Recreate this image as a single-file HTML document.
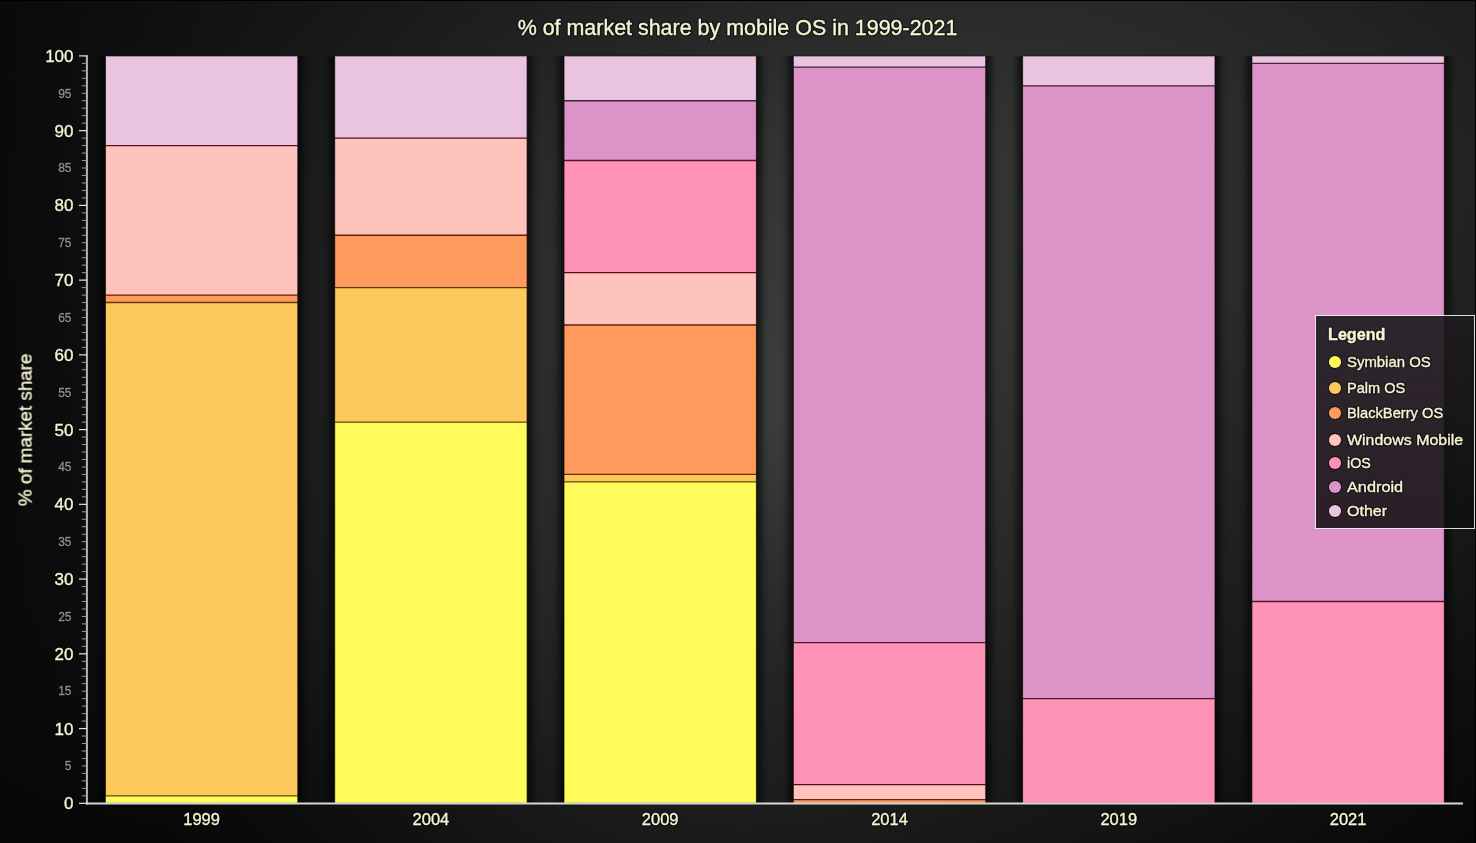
<!DOCTYPE html>
<html><head><meta charset="utf-8"><style>
html,body{margin:0;padding:0;}
body{width:1476px;height:843px;overflow:hidden;position:relative;background:#0a0a0a;font-family:"Liberation Sans",sans-serif;}
svg .t{opacity:0.999}
#bg div{position:absolute;left:0;width:1476px;height:8px}
.edge{position:absolute;background:#000}
</style></head><body>
<div id="bg"><div style="top:0px;background:linear-gradient(90deg,rgb(9.6,10.1,10.1) 0px,rgb(12.4,12.9,12.9) 82px,rgb(15.3,15.8,15.8) 164px,rgb(18.4,19.6,19.4) 246px,rgb(21.7,22.9,22.7) 328px,rgb(25.3,26.5,26.3) 410px,rgb(28.7,29.9,29.7) 492px,rgb(31.5,32.7,32.5) 574px,rgb(34.2,35.4,35.2) 656px,rgb(36.7,37.9,37.7) 738px,rgb(38.6,39.8,39.6) 820px,rgb(40.0,41.2,41.0) 902px,rgb(40.7,41.9,41.7) 984px,rgb(40.3,41.5,41.3) 1066px,rgb(39.0,40.2,40.0) 1148px,rgb(37.2,38.4,38.2) 1230px,rgb(34.7,35.9,35.7) 1312px,rgb(31.4,32.6,32.4) 1394px,rgb(28.0,29.2,29.0) 1476px)"></div><div style="top:8px;background:linear-gradient(90deg,rgb(9.7,10.2,10.2) 0px,rgb(12.4,12.9,12.9) 82px,rgb(15.4,15.9,15.9) 164px,rgb(18.6,19.8,19.6) 246px,rgb(22.0,23.2,23.0) 328px,rgb(25.7,26.9,26.7) 410px,rgb(29.2,30.4,30.2) 492px,rgb(32.1,33.3,33.1) 574px,rgb(34.8,36.0,35.8) 656px,rgb(37.3,38.5,38.3) 738px,rgb(39.2,40.4,40.2) 820px,rgb(40.6,41.8,41.6) 902px,rgb(41.3,42.5,42.3) 984px,rgb(40.8,42.0,41.8) 1066px,rgb(39.4,40.6,40.4) 1148px,rgb(37.6,38.8,38.6) 1230px,rgb(35.1,36.3,36.1) 1312px,rgb(31.8,33.0,32.8) 1394px,rgb(28.3,29.5,29.3) 1476px)"></div><div style="top:16px;background:linear-gradient(90deg,rgb(9.7,10.2,10.2) 0px,rgb(12.5,13.0,13.0) 82px,rgb(15.6,16.1,16.1) 164px,rgb(18.9,20.1,19.9) 246px,rgb(22.3,23.5,23.3) 328px,rgb(26.1,27.3,27.1) 410px,rgb(29.6,30.8,30.6) 492px,rgb(32.6,33.8,33.6) 574px,rgb(35.4,36.6,36.4) 656px,rgb(37.9,39.1,38.9) 738px,rgb(39.8,41.0,40.8) 820px,rgb(41.2,42.4,42.2) 902px,rgb(41.9,43.1,42.9) 984px,rgb(41.3,42.5,42.3) 1066px,rgb(39.8,41.0,40.8) 1148px,rgb(38.0,39.2,39.0) 1230px,rgb(35.4,36.6,36.4) 1312px,rgb(32.1,33.3,33.1) 1394px,rgb(28.7,29.9,29.7) 1476px)"></div><div style="top:24px;background:linear-gradient(90deg,rgb(9.7,10.2,10.2) 0px,rgb(12.6,13.1,13.1) 82px,rgb(15.7,16.2,16.2) 164px,rgb(19.1,20.3,20.1) 246px,rgb(22.6,23.8,23.6) 328px,rgb(26.4,27.6,27.4) 410px,rgb(30.1,31.3,31.1) 492px,rgb(33.2,34.4,34.2) 574px,rgb(36.0,37.2,37.0) 656px,rgb(38.5,39.7,39.5) 738px,rgb(40.5,41.7,41.5) 820px,rgb(41.8,43.0,42.8) 902px,rgb(42.5,43.7,43.5) 984px,rgb(41.8,43.0,42.8) 1066px,rgb(40.3,41.5,41.3) 1148px,rgb(38.3,39.5,39.3) 1230px,rgb(35.8,37.0,36.8) 1312px,rgb(32.5,33.7,33.5) 1394px,rgb(29.0,30.2,30.0) 1476px)"></div><div style="top:32px;background:linear-gradient(90deg,rgb(9.7,10.2,10.2) 0px,rgb(12.6,13.1,13.1) 82px,rgb(15.8,16.3,16.3) 164px,rgb(19.3,20.5,20.3) 246px,rgb(22.9,24.1,23.9) 328px,rgb(26.8,28.0,27.8) 410px,rgb(30.6,31.8,31.6) 492px,rgb(33.8,35.0,34.8) 574px,rgb(36.6,37.8,37.6) 656px,rgb(39.2,40.4,40.2) 738px,rgb(41.1,42.3,42.1) 820px,rgb(42.5,43.7,43.5) 902px,rgb(43.0,44.2,44.0) 984px,rgb(42.3,43.5,43.3) 1066px,rgb(40.7,41.9,41.7) 1148px,rgb(38.7,39.9,39.7) 1230px,rgb(36.1,37.3,37.1) 1312px,rgb(32.9,34.1,33.9) 1394px,rgb(29.4,30.6,30.4) 1476px)"></div><div style="top:40px;background:linear-gradient(90deg,rgb(9.7,10.2,10.2) 0px,rgb(12.7,13.2,13.2) 82px,rgb(16.0,16.5,16.5) 164px,rgb(19.5,20.7,20.5) 246px,rgb(23.2,24.4,24.2) 328px,rgb(27.2,28.4,28.2) 410px,rgb(31.1,32.3,32.1) 492px,rgb(34.3,35.5,35.3) 574px,rgb(37.3,38.5,38.3) 656px,rgb(39.8,41.0,40.8) 738px,rgb(41.8,43.0,42.8) 820px,rgb(43.1,44.3,44.1) 902px,rgb(43.6,44.8,44.6) 984px,rgb(42.8,44.0,43.8) 1066px,rgb(41.1,42.3,42.1) 1148px,rgb(39.1,40.3,40.1) 1230px,rgb(36.5,37.7,37.5) 1312px,rgb(33.2,34.4,34.2) 1394px,rgb(29.8,31.0,30.8) 1476px)"></div><div style="top:48px;background:linear-gradient(90deg,rgb(9.7,10.2,10.2) 0px,rgb(12.7,13.2,13.2) 82px,rgb(16.1,16.6,16.6) 164px,rgb(19.7,20.9,20.7) 246px,rgb(23.5,24.7,24.5) 328px,rgb(27.5,28.7,28.5) 410px,rgb(31.5,32.7,32.5) 492px,rgb(34.9,36.1,35.9) 574px,rgb(37.9,39.1,38.9) 656px,rgb(40.5,41.7,41.5) 738px,rgb(42.4,43.6,43.4) 820px,rgb(43.7,44.9,44.7) 902px,rgb(44.2,45.4,45.2) 984px,rgb(43.3,44.5,44.3) 1066px,rgb(41.5,42.7,42.5) 1148px,rgb(39.4,40.6,40.4) 1230px,rgb(36.8,38.0,37.8) 1312px,rgb(33.6,34.8,34.6) 1394px,rgb(30.2,31.4,31.2) 1476px)"></div><div style="top:56px;background:linear-gradient(90deg,rgb(9.7,10.2,10.2) 0px,rgb(12.8,13.3,13.3) 82px,rgb(16.2,16.7,16.7) 164px,rgb(19.9,21.1,20.9) 246px,rgb(23.7,24.9,24.7) 328px,rgb(27.9,29.1,28.9) 410px,rgb(32.0,33.2,33.0) 492px,rgb(35.5,36.7,36.5) 574px,rgb(38.5,39.7,39.5) 656px,rgb(41.2,42.4,42.2) 738px,rgb(43.1,44.3,44.1) 820px,rgb(44.4,45.6,45.4) 902px,rgb(44.8,46.0,45.8) 984px,rgb(43.8,45.0,44.8) 1066px,rgb(41.9,43.1,42.9) 1148px,rgb(39.8,41.0,40.8) 1230px,rgb(37.1,38.3,38.1) 1312px,rgb(34.0,35.2,35.0) 1394px,rgb(30.6,31.8,31.6) 1476px)"></div><div style="top:64px;background:linear-gradient(90deg,rgb(9.7,10.2,10.2) 0px,rgb(12.8,13.3,13.3) 82px,rgb(16.3,16.8,16.8) 164px,rgb(20.1,21.3,21.1) 246px,rgb(24.0,25.2,25.0) 328px,rgb(28.3,29.5,29.3) 410px,rgb(32.5,33.7,33.5) 492px,rgb(36.1,37.3,37.1) 574px,rgb(39.2,40.4,40.2) 656px,rgb(41.9,43.1,42.9) 738px,rgb(43.8,45.0,44.8) 820px,rgb(45.0,46.2,46.0) 902px,rgb(45.4,46.6,46.4) 984px,rgb(44.3,45.5,45.3) 1066px,rgb(42.3,43.5,43.3) 1148px,rgb(40.1,41.3,41.1) 1230px,rgb(37.4,38.6,38.4) 1312px,rgb(34.3,35.5,35.3) 1394px,rgb(31.0,32.2,32.0) 1476px)"></div><div style="top:72px;background:linear-gradient(90deg,rgb(9.7,10.2,10.2) 0px,rgb(12.9,13.4,13.4) 82px,rgb(16.5,17.0,17.0) 164px,rgb(20.3,21.5,21.3) 246px,rgb(24.3,25.5,25.3) 328px,rgb(28.6,29.8,29.6) 410px,rgb(32.9,34.1,33.9) 492px,rgb(36.6,37.8,37.6) 574px,rgb(39.8,41.0,40.8) 656px,rgb(42.5,43.7,43.5) 738px,rgb(44.5,45.7,45.5) 820px,rgb(45.6,46.8,46.6) 902px,rgb(45.9,47.1,46.9) 984px,rgb(44.7,45.9,45.7) 1066px,rgb(42.7,43.9,43.7) 1148px,rgb(40.4,41.6,41.4) 1230px,rgb(37.7,38.9,38.7) 1312px,rgb(34.6,35.8,35.6) 1394px,rgb(31.3,32.5,32.3) 1476px)"></div><div style="top:80px;background:linear-gradient(90deg,rgb(9.6,10.1,10.1) 0px,rgb(12.9,13.4,13.4) 82px,rgb(16.6,17.1,17.1) 164px,rgb(20.5,21.7,21.5) 246px,rgb(24.6,25.8,25.6) 328px,rgb(29.0,30.2,30.0) 410px,rgb(33.4,34.6,34.4) 492px,rgb(37.2,38.4,38.2) 574px,rgb(40.4,41.6,41.4) 656px,rgb(43.2,44.4,44.2) 738px,rgb(45.2,46.4,46.2) 820px,rgb(46.3,47.5,47.3) 902px,rgb(46.5,47.7,47.5) 984px,rgb(45.2,46.4,46.2) 1066px,rgb(43.1,44.3,44.1) 1148px,rgb(40.7,41.9,41.7) 1230px,rgb(38.0,39.2,39.0) 1312px,rgb(34.9,36.1,35.9) 1394px,rgb(31.7,32.9,32.7) 1476px)"></div><div style="top:88px;background:linear-gradient(90deg,rgb(9.6,10.1,10.1) 0px,rgb(13.0,13.5,13.5) 82px,rgb(16.7,17.2,17.2) 164px,rgb(20.7,21.9,21.7) 246px,rgb(24.9,26.1,25.9) 328px,rgb(29.4,30.6,30.4) 410px,rgb(33.9,35.1,34.9) 492px,rgb(37.8,39.0,38.8) 574px,rgb(41.1,42.3,42.1) 656px,rgb(43.9,45.1,44.9) 738px,rgb(45.9,47.1,46.9) 820px,rgb(46.9,48.1,47.9) 902px,rgb(47.0,48.2,48.0) 984px,rgb(45.6,46.8,46.6) 1066px,rgb(43.4,44.6,44.4) 1148px,rgb(41.0,42.2,42.0) 1230px,rgb(38.3,39.5,39.3) 1312px,rgb(35.2,36.4,36.2) 1394px,rgb(32.0,33.2,33.0) 1476px)"></div><div style="top:96px;background:linear-gradient(90deg,rgb(9.6,10.1,10.1) 0px,rgb(13.0,13.5,13.5) 82px,rgb(16.8,17.3,17.3) 164px,rgb(20.9,22.1,21.9) 246px,rgb(25.2,26.4,26.2) 328px,rgb(29.7,30.9,30.7) 410px,rgb(34.3,35.5,35.3) 492px,rgb(38.3,39.5,39.3) 574px,rgb(41.7,42.9,42.7) 656px,rgb(44.6,45.8,45.6) 738px,rgb(46.5,47.7,47.5) 820px,rgb(47.4,48.6,48.4) 902px,rgb(47.5,48.7,48.5) 984px,rgb(46.1,47.3,47.1) 1066px,rgb(43.8,45.0,44.8) 1148px,rgb(41.3,42.5,42.3) 1230px,rgb(38.5,39.7,39.5) 1312px,rgb(35.5,36.7,36.5) 1394px,rgb(32.3,33.5,33.3) 1476px)"></div><div style="top:104px;background:linear-gradient(90deg,rgb(9.6,10.1,10.1) 0px,rgb(13.1,13.6,13.6) 82px,rgb(16.9,17.4,17.4) 164px,rgb(21.0,22.2,22.0) 246px,rgb(25.4,26.6,26.4) 328px,rgb(30.0,31.2,31.0) 410px,rgb(34.7,35.9,35.7) 492px,rgb(38.9,40.1,39.9) 574px,rgb(42.3,43.5,43.3) 656px,rgb(45.3,46.5,46.3) 738px,rgb(47.2,48.4,48.2) 820px,rgb(48.0,49.2,49.0) 902px,rgb(48.0,49.2,49.0) 984px,rgb(46.5,47.7,47.5) 1066px,rgb(44.1,45.3,45.1) 1148px,rgb(41.6,42.8,42.6) 1230px,rgb(38.7,39.9,39.7) 1312px,rgb(35.7,36.9,36.7) 1394px,rgb(32.5,33.7,33.5) 1476px)"></div><div style="top:112px;background:linear-gradient(90deg,rgb(9.6,10.1,10.1) 0px,rgb(13.1,13.6,13.6) 82px,rgb(17.0,17.5,17.5) 164px,rgb(21.2,22.4,22.2) 246px,rgb(25.7,26.9,26.7) 328px,rgb(30.4,31.6,31.4) 410px,rgb(35.2,36.4,36.2) 492px,rgb(39.4,40.6,40.4) 574px,rgb(42.9,44.1,43.9) 656px,rgb(45.9,47.1,46.9) 738px,rgb(47.8,49.0,48.8) 820px,rgb(48.6,49.8,49.6) 902px,rgb(48.5,49.7,49.5) 984px,rgb(46.9,48.1,47.9) 1066px,rgb(44.4,45.6,45.4) 1148px,rgb(41.8,43.0,42.8) 1230px,rgb(39.0,40.2,40.0) 1312px,rgb(35.9,37.1,36.9) 1394px,rgb(32.7,33.9,33.7) 1476px)"></div><div style="top:120px;background:linear-gradient(90deg,rgb(9.6,10.1,10.1) 0px,rgb(13.1,13.6,13.6) 82px,rgb(17.1,17.6,17.6) 164px,rgb(21.4,22.6,22.4) 246px,rgb(25.9,27.1,26.9) 328px,rgb(30.7,31.9,31.7) 410px,rgb(35.6,36.8,36.6) 492px,rgb(39.9,41.1,40.9) 574px,rgb(43.4,44.6,44.4) 656px,rgb(46.6,47.8,47.6) 738px,rgb(48.5,49.7,49.5) 820px,rgb(49.1,50.3,50.1) 902px,rgb(49.0,50.2,50.0) 984px,rgb(47.2,48.4,48.2) 1066px,rgb(44.7,45.9,45.7) 1148px,rgb(42.0,43.2,43.0) 1230px,rgb(39.1,40.3,40.1) 1312px,rgb(36.1,37.3,37.1) 1394px,rgb(32.8,34.0,33.8) 1476px)"></div><div style="top:128px;background:linear-gradient(90deg,rgb(9.6,10.1,10.1) 0px,rgb(13.2,13.7,13.7) 82px,rgb(17.2,17.7,17.7) 164px,rgb(21.6,22.8,22.6) 246px,rgb(26.2,27.4,27.2) 328px,rgb(31.0,32.2,32.0) 410px,rgb(36.0,37.2,37.0) 492px,rgb(40.4,41.6,41.4) 574px,rgb(44.0,45.2,45.0) 656px,rgb(47.2,48.4,48.2) 738px,rgb(49.1,50.3,50.1) 820px,rgb(49.6,50.8,50.6) 902px,rgb(49.4,50.6,50.4) 984px,rgb(47.6,48.8,48.6) 1066px,rgb(44.9,46.1,45.9) 1148px,rgb(42.2,43.4,43.2) 1230px,rgb(39.3,40.5,40.3) 1312px,rgb(36.3,37.5,37.3) 1394px,rgb(33.0,34.2,34.0) 1476px)"></div><div style="top:136px;background:linear-gradient(90deg,rgb(9.6,10.1,10.1) 0px,rgb(13.2,13.7,13.7) 82px,rgb(17.3,17.8,17.8) 164px,rgb(21.7,22.9,22.7) 246px,rgb(26.4,27.6,27.4) 328px,rgb(31.3,32.5,32.3) 410px,rgb(36.3,37.5,37.3) 492px,rgb(40.9,42.1,41.9) 574px,rgb(44.5,45.7,45.5) 656px,rgb(47.8,49.0,48.8) 738px,rgb(49.7,50.9,50.7) 820px,rgb(50.1,51.3,51.1) 902px,rgb(49.8,51.0,50.8) 984px,rgb(47.9,49.1,48.9) 1066px,rgb(45.2,46.4,46.2) 1148px,rgb(42.4,43.6,43.4) 1230px,rgb(39.5,40.7,40.5) 1312px,rgb(36.4,37.6,37.4) 1394px,rgb(33.1,34.3,34.1) 1476px)"></div><div style="top:144px;background:linear-gradient(90deg,rgb(9.6,10.1,10.1) 0px,rgb(13.3,13.8,13.8) 82px,rgb(17.4,17.9,17.9) 164px,rgb(21.9,23.1,22.9) 246px,rgb(26.6,27.8,27.6) 328px,rgb(31.6,32.8,32.6) 410px,rgb(36.7,37.9,37.7) 492px,rgb(41.3,42.5,42.3) 574px,rgb(45.0,46.2,46.0) 656px,rgb(48.4,49.6,49.4) 738px,rgb(50.2,51.4,51.2) 820px,rgb(50.6,51.8,51.6) 902px,rgb(50.2,51.4,51.2) 984px,rgb(48.1,49.3,49.1) 1066px,rgb(45.4,46.6,46.4) 1148px,rgb(42.6,43.8,43.6) 1230px,rgb(39.6,40.8,40.6) 1312px,rgb(36.5,37.7,37.5) 1394px,rgb(33.1,34.3,34.1) 1476px)"></div><div style="top:152px;background:linear-gradient(90deg,rgb(9.7,10.2,10.2) 0px,rgb(13.3,13.8,13.8) 82px,rgb(17.5,18.0,18.0) 164px,rgb(22.0,23.2,23.0) 246px,rgb(26.9,28.1,27.9) 328px,rgb(31.8,33.0,32.8) 410px,rgb(37.0,38.2,38.0) 492px,rgb(41.7,42.9,42.7) 574px,rgb(45.5,46.7,46.5) 656px,rgb(48.9,50.1,49.9) 738px,rgb(50.7,51.9,51.7) 820px,rgb(51.0,52.2,52.0) 902px,rgb(50.5,51.7,51.5) 984px,rgb(48.4,49.6,49.4) 1066px,rgb(45.6,46.8,46.6) 1148px,rgb(42.8,44.0,43.8) 1230px,rgb(39.7,40.9,40.7) 1312px,rgb(36.6,37.8,37.6) 1394px,rgb(33.2,34.4,34.2) 1476px)"></div><div style="top:160px;background:linear-gradient(90deg,rgb(9.7,10.2,10.2) 0px,rgb(13.3,13.8,13.8) 82px,rgb(17.6,18.1,18.1) 164px,rgb(22.2,23.4,23.2) 246px,rgb(27.1,28.3,28.1) 328px,rgb(32.1,33.3,33.1) 410px,rgb(37.3,38.5,38.3) 492px,rgb(42.1,43.3,43.1) 574px,rgb(46.0,47.2,47.0) 656px,rgb(49.4,50.6,50.4) 738px,rgb(51.2,52.4,52.2) 820px,rgb(51.4,52.6,52.4) 902px,rgb(50.8,52.0,51.8) 984px,rgb(48.6,49.8,49.6) 1066px,rgb(45.7,46.9,46.7) 1148px,rgb(42.9,44.1,43.9) 1230px,rgb(39.8,41.0,40.8) 1312px,rgb(36.7,37.9,37.7) 1394px,rgb(33.2,34.4,34.2) 1476px)"></div><div style="top:168px;background:linear-gradient(90deg,rgb(9.7,10.2,10.2) 0px,rgb(13.4,13.9,13.9) 82px,rgb(17.6,18.1,18.1) 164px,rgb(22.3,23.5,23.3) 246px,rgb(27.3,28.5,28.3) 328px,rgb(32.3,33.5,33.3) 410px,rgb(37.6,38.8,38.6) 492px,rgb(42.5,43.7,43.5) 574px,rgb(46.4,47.6,47.4) 656px,rgb(49.9,51.1,50.9) 738px,rgb(51.7,52.9,52.7) 820px,rgb(51.8,53.0,52.8) 902px,rgb(51.1,52.3,52.1) 984px,rgb(48.8,50.0,49.8) 1066px,rgb(45.9,47.1,46.9) 1148px,rgb(43.0,44.2,44.0) 1230px,rgb(39.9,41.1,40.9) 1312px,rgb(36.7,37.9,37.7) 1394px,rgb(33.2,34.4,34.2) 1476px)"></div><div style="top:176px;background:linear-gradient(90deg,rgb(9.7,10.2,10.2) 0px,rgb(13.4,13.9,13.9) 82px,rgb(17.7,18.2,18.2) 164px,rgb(22.5,23.7,23.5) 246px,rgb(27.4,28.6,28.4) 328px,rgb(32.5,33.7,33.5) 410px,rgb(37.8,39.0,38.8) 492px,rgb(42.8,44.0,43.8) 574px,rgb(46.9,48.1,47.9) 656px,rgb(50.3,51.5,51.3) 738px,rgb(52.1,53.3,53.1) 820px,rgb(52.2,53.4,53.2) 902px,rgb(51.3,52.5,52.3) 984px,rgb(48.9,50.1,49.9) 1066px,rgb(46.0,47.2,47.0) 1148px,rgb(43.1,44.3,44.1) 1230px,rgb(39.9,41.1,40.9) 1312px,rgb(36.7,37.9,37.7) 1394px,rgb(33.2,34.4,34.2) 1476px)"></div><div style="top:184px;background:linear-gradient(90deg,rgb(9.7,10.2,10.2) 0px,rgb(13.4,13.9,13.9) 82px,rgb(17.8,18.3,18.3) 164px,rgb(22.6,23.8,23.6) 246px,rgb(27.6,28.8,28.6) 328px,rgb(32.7,33.9,33.7) 410px,rgb(38.1,39.3,39.1) 492px,rgb(43.1,44.3,44.1) 574px,rgb(47.3,48.5,48.3) 656px,rgb(50.7,51.9,51.7) 738px,rgb(52.5,53.7,53.5) 820px,rgb(52.5,53.7,53.5) 902px,rgb(51.5,52.7,52.5) 984px,rgb(49.0,50.2,50.0) 1066px,rgb(46.0,47.2,47.0) 1148px,rgb(43.1,44.3,44.1) 1230px,rgb(40.0,41.2,41.0) 1312px,rgb(36.7,37.9,37.7) 1394px,rgb(33.2,34.4,34.2) 1476px)"></div><div style="top:192px;background:linear-gradient(90deg,rgb(9.7,10.2,10.2) 0px,rgb(13.4,13.9,13.9) 82px,rgb(17.9,18.4,18.4) 164px,rgb(22.7,23.9,23.7) 246px,rgb(27.8,29.0,28.8) 328px,rgb(32.9,34.1,33.9) 410px,rgb(38.3,39.5,39.3) 492px,rgb(43.4,44.6,44.4) 574px,rgb(47.6,48.8,48.6) 656px,rgb(51.1,52.3,52.1) 738px,rgb(52.8,54.0,53.8) 820px,rgb(52.8,54.0,53.8) 902px,rgb(51.7,52.9,52.7) 984px,rgb(49.1,50.3,50.1) 1066px,rgb(46.1,47.3,47.1) 1148px,rgb(43.2,44.4,44.2) 1230px,rgb(40.0,41.2,41.0) 1312px,rgb(36.7,37.9,37.7) 1394px,rgb(33.2,34.4,34.2) 1476px)"></div><div style="top:200px;background:linear-gradient(90deg,rgb(9.7,10.2,10.2) 0px,rgb(13.5,14.0,14.0) 82px,rgb(17.9,18.4,18.4) 164px,rgb(22.8,24.0,23.8) 246px,rgb(27.9,29.1,28.9) 328px,rgb(33.1,34.3,34.1) 410px,rgb(38.5,39.7,39.5) 492px,rgb(43.6,44.8,44.6) 574px,rgb(48.0,49.2,49.0) 656px,rgb(51.4,52.6,52.4) 738px,rgb(53.1,54.3,54.1) 820px,rgb(53.1,54.3,54.1) 902px,rgb(51.8,53.0,52.8) 984px,rgb(49.2,50.4,50.2) 1066px,rgb(46.1,47.3,47.1) 1148px,rgb(43.2,44.4,44.2) 1230px,rgb(40.0,41.2,41.0) 1312px,rgb(36.7,37.9,37.7) 1394px,rgb(33.1,34.3,34.1) 1476px)"></div><div style="top:208px;background:linear-gradient(90deg,rgb(9.7,10.2,10.2) 0px,rgb(13.5,14.0,14.0) 82px,rgb(18.0,18.5,18.5) 164px,rgb(22.9,24.1,23.9) 246px,rgb(28.1,29.3,29.1) 328px,rgb(33.3,34.5,34.3) 410px,rgb(38.7,39.9,39.7) 492px,rgb(43.9,45.1,44.9) 574px,rgb(48.3,49.5,49.3) 656px,rgb(51.7,52.9,52.7) 738px,rgb(53.4,54.6,54.4) 820px,rgb(53.3,54.5,54.3) 902px,rgb(51.9,53.1,52.9) 984px,rgb(49.2,50.4,50.2) 1066px,rgb(46.1,47.3,47.1) 1148px,rgb(43.2,44.4,44.2) 1230px,rgb(39.9,41.1,40.9) 1312px,rgb(36.6,37.8,37.6) 1394px,rgb(33.0,34.2,34.0) 1476px)"></div><div style="top:216px;background:linear-gradient(90deg,rgb(9.7,10.2,10.2) 0px,rgb(13.5,14.0,14.0) 82px,rgb(18.0,19.2,19.0) 164px,rgb(23.0,24.2,24.0) 246px,rgb(28.2,29.4,29.2) 328px,rgb(33.4,34.6,34.4) 410px,rgb(38.8,40.0,39.8) 492px,rgb(44.1,45.3,45.1) 574px,rgb(48.7,49.9,49.7) 656px,rgb(52.1,53.3,53.1) 738px,rgb(53.7,54.9,54.7) 820px,rgb(53.6,54.8,54.6) 902px,rgb(52.0,53.2,53.0) 984px,rgb(49.2,50.4,50.2) 1066px,rgb(46.1,47.3,47.1) 1148px,rgb(43.1,44.3,44.1) 1230px,rgb(39.8,41.0,40.8) 1312px,rgb(36.5,37.7,37.5) 1394px,rgb(33.0,34.2,34.0) 1476px)"></div><div style="top:224px;background:linear-gradient(90deg,rgb(9.6,10.1,10.1) 0px,rgb(13.5,14.0,14.0) 82px,rgb(18.1,19.3,19.1) 164px,rgb(23.1,24.3,24.1) 246px,rgb(28.3,29.5,29.3) 328px,rgb(33.6,34.8,34.6) 410px,rgb(39.0,40.2,40.0) 492px,rgb(44.3,45.5,45.3) 574px,rgb(49.0,50.2,50.0) 656px,rgb(52.4,53.6,53.4) 738px,rgb(54.0,55.2,55.0) 820px,rgb(53.8,55.0,54.8) 902px,rgb(52.0,53.2,53.0) 984px,rgb(49.2,50.4,50.2) 1066px,rgb(46.0,47.2,47.0) 1148px,rgb(43.0,44.2,44.0) 1230px,rgb(39.8,41.0,40.8) 1312px,rgb(36.4,37.6,37.4) 1394px,rgb(32.8,34.0,33.8) 1476px)"></div><div style="top:232px;background:linear-gradient(90deg,rgb(9.6,10.1,10.1) 0px,rgb(13.5,14.0,14.0) 82px,rgb(18.1,19.3,19.1) 164px,rgb(23.2,24.4,24.2) 246px,rgb(28.4,29.6,29.4) 328px,rgb(33.7,34.9,34.7) 410px,rgb(39.1,40.3,40.1) 492px,rgb(44.5,45.7,45.5) 574px,rgb(49.3,50.5,50.3) 656px,rgb(52.6,53.8,53.6) 738px,rgb(54.3,55.5,55.3) 820px,rgb(54.0,55.2,55.0) 902px,rgb(52.1,53.3,53.1) 984px,rgb(49.1,50.3,50.1) 1066px,rgb(46.0,47.2,47.0) 1148px,rgb(42.9,44.1,43.9) 1230px,rgb(39.6,40.8,40.6) 1312px,rgb(36.3,37.5,37.3) 1394px,rgb(32.7,33.9,33.7) 1476px)"></div><div style="top:240px;background:linear-gradient(90deg,rgb(9.6,10.1,10.1) 0px,rgb(13.5,14.0,14.0) 82px,rgb(18.2,19.4,19.2) 164px,rgb(23.3,24.5,24.3) 246px,rgb(28.5,29.7,29.5) 328px,rgb(33.8,35.0,34.8) 410px,rgb(39.2,40.4,40.2) 492px,rgb(44.6,45.8,45.6) 574px,rgb(49.5,50.7,50.5) 656px,rgb(52.9,54.1,53.9) 738px,rgb(54.5,55.7,55.5) 820px,rgb(54.2,55.4,55.2) 902px,rgb(52.1,53.3,53.1) 984px,rgb(49.0,50.2,50.0) 1066px,rgb(45.8,47.0,46.8) 1148px,rgb(42.8,44.0,43.8) 1230px,rgb(39.5,40.7,40.5) 1312px,rgb(36.2,37.4,37.2) 1394px,rgb(32.6,33.8,33.6) 1476px)"></div><div style="top:248px;background:linear-gradient(90deg,rgb(9.6,10.1,10.1) 0px,rgb(13.5,14.0,14.0) 82px,rgb(18.2,19.4,19.2) 164px,rgb(23.3,24.5,24.3) 246px,rgb(28.6,29.8,29.6) 328px,rgb(33.9,35.1,34.9) 410px,rgb(39.3,40.5,40.3) 492px,rgb(44.8,46.0,45.8) 574px,rgb(49.8,51.0,50.8) 656px,rgb(53.2,54.4,54.2) 738px,rgb(54.8,56.0,55.8) 820px,rgb(54.3,55.5,55.3) 902px,rgb(52.0,53.2,53.0) 984px,rgb(48.9,50.1,49.9) 1066px,rgb(45.7,46.9,46.7) 1148px,rgb(42.6,43.8,43.6) 1230px,rgb(39.4,40.6,40.4) 1312px,rgb(36.0,37.2,37.0) 1394px,rgb(32.4,33.6,33.4) 1476px)"></div><div style="top:256px;background:linear-gradient(90deg,rgb(9.6,10.1,10.1) 0px,rgb(13.5,14.0,14.0) 82px,rgb(18.2,19.4,19.2) 164px,rgb(23.4,24.6,24.4) 246px,rgb(28.7,29.9,29.7) 328px,rgb(33.9,35.1,34.9) 410px,rgb(39.3,40.5,40.3) 492px,rgb(44.9,46.1,45.9) 574px,rgb(50.1,51.3,51.1) 656px,rgb(53.6,54.8,54.6) 738px,rgb(55.1,56.3,56.1) 820px,rgb(54.5,55.7,55.5) 902px,rgb(52.0,53.2,53.0) 984px,rgb(48.8,50.0,49.8) 1066px,rgb(45.6,46.8,46.6) 1148px,rgb(42.5,43.7,43.5) 1230px,rgb(39.2,40.4,40.2) 1312px,rgb(35.8,37.0,36.8) 1394px,rgb(32.3,33.5,33.3) 1476px)"></div><div style="top:264px;background:linear-gradient(90deg,rgb(9.6,10.1,10.1) 0px,rgb(13.5,14.0,14.0) 82px,rgb(18.3,19.5,19.3) 164px,rgb(23.5,24.7,24.5) 246px,rgb(28.8,30.0,29.8) 328px,rgb(34.0,35.2,35.0) 410px,rgb(39.4,40.6,40.4) 492px,rgb(45.0,46.2,46.0) 574px,rgb(50.3,51.5,51.3) 656px,rgb(53.9,55.1,54.9) 738px,rgb(55.3,56.5,56.3) 820px,rgb(54.6,55.8,55.6) 902px,rgb(52.0,53.2,53.0) 984px,rgb(48.7,49.9,49.7) 1066px,rgb(45.4,46.6,46.4) 1148px,rgb(42.3,43.5,43.3) 1230px,rgb(39.0,40.2,40.0) 1312px,rgb(35.7,36.9,36.7) 1394px,rgb(32.1,33.3,33.1) 1476px)"></div><div style="top:272px;background:linear-gradient(90deg,rgb(9.6,10.1,10.1) 0px,rgb(13.5,14.0,14.0) 82px,rgb(18.3,19.5,19.3) 164px,rgb(23.5,24.7,24.5) 246px,rgb(28.8,30.0,29.8) 328px,rgb(34.1,35.3,35.1) 410px,rgb(39.4,40.6,40.4) 492px,rgb(45.1,46.3,46.1) 574px,rgb(50.5,51.7,51.5) 656px,rgb(54.2,55.4,55.2) 738px,rgb(55.6,56.8,56.6) 820px,rgb(54.7,55.9,55.7) 902px,rgb(51.9,53.1,52.9) 984px,rgb(48.5,49.7,49.5) 1066px,rgb(45.2,46.4,46.2) 1148px,rgb(42.0,43.2,43.0) 1230px,rgb(38.8,40.0,39.8) 1312px,rgb(35.5,36.7,36.5) 1394px,rgb(31.9,33.1,32.9) 1476px)"></div><div style="top:280px;background:linear-gradient(90deg,rgb(9.5,10.0,10.0) 0px,rgb(13.5,14.0,14.0) 82px,rgb(18.3,19.5,19.3) 164px,rgb(23.6,24.8,24.6) 246px,rgb(28.9,30.1,29.9) 328px,rgb(34.1,35.3,35.1) 410px,rgb(39.4,40.6,40.4) 492px,rgb(45.2,46.4,46.2) 574px,rgb(50.8,52.0,51.8) 656px,rgb(54.5,55.7,55.5) 738px,rgb(55.9,57.1,56.9) 820px,rgb(54.8,56.0,55.8) 902px,rgb(51.8,53.0,52.8) 984px,rgb(48.3,49.5,49.3) 1066px,rgb(45.0,46.2,46.0) 1148px,rgb(41.8,43.0,42.8) 1230px,rgb(38.6,39.8,39.6) 1312px,rgb(35.2,36.4,36.2) 1394px,rgb(31.7,32.9,32.7) 1476px)"></div><div style="top:288px;background:linear-gradient(90deg,rgb(9.5,10.0,10.0) 0px,rgb(13.5,14.0,14.0) 82px,rgb(18.3,19.5,19.3) 164px,rgb(23.6,24.8,24.6) 246px,rgb(28.9,30.1,29.9) 328px,rgb(34.1,35.3,35.1) 410px,rgb(39.4,40.6,40.4) 492px,rgb(45.2,46.4,46.2) 574px,rgb(51.0,52.2,52.0) 656px,rgb(54.9,56.1,55.9) 738px,rgb(56.2,57.4,57.2) 820px,rgb(54.9,56.1,55.9) 902px,rgb(51.7,52.9,52.7) 984px,rgb(48.1,49.3,49.1) 1066px,rgb(44.7,45.9,45.7) 1148px,rgb(41.5,42.7,42.5) 1230px,rgb(38.3,39.5,39.3) 1312px,rgb(35.0,36.2,36.0) 1394px,rgb(31.5,32.7,32.5) 1476px)"></div><div style="top:296px;background:linear-gradient(90deg,rgb(9.5,10.0,10.0) 0px,rgb(13.5,14.0,14.0) 82px,rgb(18.3,19.5,19.3) 164px,rgb(23.6,24.8,24.6) 246px,rgb(29.0,30.2,30.0) 328px,rgb(34.1,35.3,35.1) 410px,rgb(39.4,40.6,40.4) 492px,rgb(45.2,46.4,46.2) 574px,rgb(51.2,52.4,52.2) 656px,rgb(55.2,56.4,56.2) 738px,rgb(56.5,57.7,57.5) 820px,rgb(55.0,56.2,56.0) 902px,rgb(51.5,52.7,52.5) 984px,rgb(47.9,49.1,48.9) 1066px,rgb(44.5,45.7,45.5) 1148px,rgb(41.3,42.5,42.3) 1230px,rgb(38.1,39.3,39.1) 1312px,rgb(34.8,36.0,35.8) 1394px,rgb(31.3,32.5,32.3) 1476px)"></div><div style="top:304px;background:linear-gradient(90deg,rgb(9.5,10.0,10.0) 0px,rgb(13.5,14.0,14.0) 82px,rgb(18.3,19.5,19.3) 164px,rgb(23.7,24.9,24.7) 246px,rgb(29.0,30.2,30.0) 328px,rgb(34.1,35.3,35.1) 410px,rgb(39.4,40.6,40.4) 492px,rgb(45.3,46.5,46.3) 574px,rgb(51.3,52.5,52.3) 656px,rgb(55.6,56.8,56.6) 738px,rgb(56.8,58.0,57.8) 820px,rgb(55.0,56.2,56.0) 902px,rgb(51.4,52.6,52.4) 984px,rgb(47.6,48.8,48.6) 1066px,rgb(44.2,45.4,45.2) 1148px,rgb(41.0,42.2,42.0) 1230px,rgb(37.8,39.0,38.8) 1312px,rgb(34.5,35.7,35.5) 1394px,rgb(31.1,32.3,32.1) 1476px)"></div><div style="top:312px;background:linear-gradient(90deg,rgb(9.4,9.9,9.9) 0px,rgb(13.4,13.9,13.9) 82px,rgb(18.3,19.5,19.3) 164px,rgb(23.7,24.9,24.7) 246px,rgb(29.0,30.2,30.0) 328px,rgb(34.1,35.3,35.1) 410px,rgb(39.4,40.6,40.4) 492px,rgb(45.3,46.5,46.3) 574px,rgb(51.5,52.7,52.5) 656px,rgb(55.9,57.1,56.9) 738px,rgb(57.1,58.3,58.1) 820px,rgb(55.1,56.3,56.1) 902px,rgb(51.2,52.4,52.2) 984px,rgb(47.4,48.6,48.4) 1066px,rgb(43.9,45.1,44.9) 1148px,rgb(40.7,41.9,41.7) 1230px,rgb(37.5,38.7,38.5) 1312px,rgb(34.3,35.5,35.3) 1394px,rgb(30.8,32.0,31.8) 1476px)"></div><div style="top:320px;background:linear-gradient(90deg,rgb(9.4,9.9,9.9) 0px,rgb(13.4,13.9,13.9) 82px,rgb(18.3,19.5,19.3) 164px,rgb(23.7,24.9,24.7) 246px,rgb(29.0,30.2,30.0) 328px,rgb(34.1,35.3,35.1) 410px,rgb(39.3,40.5,40.3) 492px,rgb(45.2,46.4,46.2) 574px,rgb(51.7,52.9,52.7) 656px,rgb(56.3,57.5,57.3) 738px,rgb(57.5,58.7,58.5) 820px,rgb(55.1,56.3,56.1) 902px,rgb(51.0,52.2,52.0) 984px,rgb(47.1,48.3,48.1) 1066px,rgb(43.7,44.9,44.7) 1148px,rgb(40.4,41.6,41.4) 1230px,rgb(37.2,38.4,38.2) 1312px,rgb(34.0,35.2,35.0) 1394px,rgb(30.6,31.8,31.6) 1476px)"></div><div style="top:328px;background:linear-gradient(90deg,rgb(9.4,9.9,9.9) 0px,rgb(13.4,13.9,13.9) 82px,rgb(18.3,19.5,19.3) 164px,rgb(23.7,24.9,24.7) 246px,rgb(29.0,30.2,30.0) 328px,rgb(34.1,35.3,35.1) 410px,rgb(39.2,40.4,40.2) 492px,rgb(45.2,46.4,46.2) 574px,rgb(51.8,53.0,52.8) 656px,rgb(56.7,57.9,57.7) 738px,rgb(57.8,59.0,58.8) 820px,rgb(55.1,56.3,56.1) 902px,rgb(50.8,52.0,51.8) 984px,rgb(46.8,48.0,47.8) 1066px,rgb(43.4,44.6,44.4) 1148px,rgb(40.1,41.3,41.1) 1230px,rgb(36.9,38.1,37.9) 1312px,rgb(33.7,34.9,34.7) 1394px,rgb(30.3,31.5,31.3) 1476px)"></div><div style="top:336px;background:linear-gradient(90deg,rgb(9.3,9.8,9.8) 0px,rgb(13.4,13.9,13.9) 82px,rgb(18.3,19.5,19.3) 164px,rgb(23.7,24.9,24.7) 246px,rgb(29.0,30.2,30.0) 328px,rgb(34.1,35.3,35.1) 410px,rgb(39.2,40.4,40.2) 492px,rgb(45.2,46.4,46.2) 574px,rgb(51.9,53.1,52.9) 656px,rgb(57.0,58.2,58.0) 738px,rgb(58.1,59.3,59.1) 820px,rgb(55.1,56.3,56.1) 902px,rgb(50.5,51.7,51.5) 984px,rgb(46.5,47.7,47.5) 1066px,rgb(43.0,44.2,44.0) 1148px,rgb(39.8,41.0,40.8) 1230px,rgb(36.6,37.8,37.6) 1312px,rgb(33.4,34.6,34.4) 1394px,rgb(30.0,31.2,31.0) 1476px)"></div><div style="top:344px;background:linear-gradient(90deg,rgb(9.3,9.8,9.8) 0px,rgb(13.3,13.8,13.8) 82px,rgb(18.3,19.5,19.3) 164px,rgb(23.7,24.9,24.7) 246px,rgb(29.0,30.2,30.0) 328px,rgb(34.0,35.2,35.0) 410px,rgb(39.1,40.3,40.1) 492px,rgb(45.1,46.3,46.1) 574px,rgb(52.0,53.2,53.0) 656px,rgb(57.4,58.6,58.4) 738px,rgb(58.3,59.5,59.3) 820px,rgb(55.0,56.2,56.0) 902px,rgb(50.3,51.5,51.3) 984px,rgb(46.2,47.4,47.2) 1066px,rgb(42.7,43.9,43.7) 1148px,rgb(39.4,40.6,40.4) 1230px,rgb(36.3,37.5,37.3) 1312px,rgb(33.1,34.3,34.1) 1394px,rgb(29.8,31.0,30.8) 1476px)"></div><div style="top:352px;background:linear-gradient(90deg,rgb(9.3,9.8,9.8) 0px,rgb(13.3,13.8,13.8) 82px,rgb(18.3,19.5,19.3) 164px,rgb(23.7,24.9,24.7) 246px,rgb(29.0,30.2,30.0) 328px,rgb(34.0,35.2,35.0) 410px,rgb(39.0,40.2,40.0) 492px,rgb(45.0,46.2,46.0) 574px,rgb(52.0,53.2,53.0) 656px,rgb(57.7,58.9,58.7) 738px,rgb(58.6,59.8,59.6) 820px,rgb(54.9,56.1,55.9) 902px,rgb(50.0,51.2,51.0) 984px,rgb(45.8,47.0,46.8) 1066px,rgb(42.4,43.6,43.4) 1148px,rgb(39.1,40.3,40.1) 1230px,rgb(36.0,37.2,37.0) 1312px,rgb(32.8,34.0,33.8) 1394px,rgb(29.5,30.7,30.5) 1476px)"></div><div style="top:360px;background:linear-gradient(90deg,rgb(9.3,9.8,9.8) 0px,rgb(13.3,13.8,13.8) 82px,rgb(18.2,19.4,19.2) 164px,rgb(23.6,24.8,24.6) 246px,rgb(29.0,30.2,30.0) 328px,rgb(33.9,35.1,34.9) 410px,rgb(38.9,40.1,39.9) 492px,rgb(44.9,46.1,45.9) 574px,rgb(52.1,53.3,53.1) 656px,rgb(58.0,59.2,59.0) 738px,rgb(58.8,60.0,59.8) 820px,rgb(54.8,56.0,55.8) 902px,rgb(49.7,50.9,50.7) 984px,rgb(45.5,46.7,46.5) 1066px,rgb(42.0,43.2,43.0) 1148px,rgb(38.7,39.9,39.7) 1230px,rgb(35.7,36.9,36.7) 1312px,rgb(32.5,33.7,33.5) 1394px,rgb(29.2,30.4,30.2) 1476px)"></div><div style="top:368px;background:linear-gradient(90deg,rgb(9.2,9.7,9.7) 0px,rgb(13.3,13.8,13.8) 82px,rgb(18.2,19.4,19.2) 164px,rgb(23.6,24.8,24.6) 246px,rgb(29.0,30.2,30.0) 328px,rgb(33.8,35.0,34.8) 410px,rgb(38.8,40.0,39.8) 492px,rgb(44.8,46.0,45.8) 574px,rgb(52.1,53.3,53.1) 656px,rgb(58.2,59.4,59.2) 738px,rgb(58.9,60.1,59.9) 820px,rgb(54.7,55.9,55.7) 902px,rgb(49.4,50.6,50.4) 984px,rgb(45.2,46.4,46.2) 1066px,rgb(41.7,42.9,42.7) 1148px,rgb(38.4,39.6,39.4) 1230px,rgb(35.3,36.5,36.3) 1312px,rgb(32.2,33.4,33.2) 1394px,rgb(28.9,30.1,29.9) 1476px)"></div><div style="top:376px;background:linear-gradient(90deg,rgb(9.2,9.7,9.7) 0px,rgb(13.2,13.7,13.7) 82px,rgb(18.2,19.4,19.2) 164px,rgb(23.6,24.8,24.6) 246px,rgb(28.9,30.1,29.9) 328px,rgb(33.8,35.0,34.8) 410px,rgb(38.7,39.9,39.7) 492px,rgb(44.7,45.9,45.7) 574px,rgb(52.1,53.3,53.1) 656px,rgb(58.3,59.5,59.3) 738px,rgb(59.0,60.2,60.0) 820px,rgb(54.5,55.7,55.5) 902px,rgb(49.1,50.3,50.1) 984px,rgb(44.8,46.0,45.8) 1066px,rgb(41.4,42.6,42.4) 1148px,rgb(38.0,39.2,39.0) 1230px,rgb(35.0,36.2,36.0) 1312px,rgb(31.9,33.1,32.9) 1394px,rgb(28.6,29.8,29.6) 1476px)"></div><div style="top:384px;background:linear-gradient(90deg,rgb(9.2,9.7,9.7) 0px,rgb(13.2,13.7,13.7) 82px,rgb(18.1,19.3,19.1) 164px,rgb(23.5,24.7,24.5) 246px,rgb(28.9,30.1,29.9) 328px,rgb(33.7,34.9,34.7) 410px,rgb(38.5,39.7,39.5) 492px,rgb(44.6,45.8,45.6) 574px,rgb(52.0,53.2,53.0) 656px,rgb(58.4,59.6,59.4) 738px,rgb(59.0,60.2,60.0) 820px,rgb(54.3,55.5,55.3) 902px,rgb(48.8,50.0,49.8) 984px,rgb(44.5,45.7,45.5) 1066px,rgb(41.0,42.2,42.0) 1148px,rgb(37.7,38.9,38.7) 1230px,rgb(34.6,35.8,35.6) 1312px,rgb(31.5,32.7,32.5) 1394px,rgb(28.3,29.5,29.3) 1476px)"></div><div style="top:392px;background:linear-gradient(90deg,rgb(9.2,9.7,9.7) 0px,rgb(13.2,13.7,13.7) 82px,rgb(18.1,19.3,19.1) 164px,rgb(23.4,24.6,24.4) 246px,rgb(28.8,30.0,29.8) 328px,rgb(33.6,34.8,34.6) 410px,rgb(38.4,39.6,39.4) 492px,rgb(44.4,45.6,45.4) 574px,rgb(51.9,53.1,52.9) 656px,rgb(58.4,59.6,59.4) 738px,rgb(58.9,60.1,59.9) 820px,rgb(54.1,55.3,55.1) 902px,rgb(48.4,49.6,49.4) 984px,rgb(44.1,45.3,45.1) 1066px,rgb(40.7,41.9,41.7) 1148px,rgb(37.3,38.5,38.3) 1230px,rgb(34.3,35.5,35.3) 1312px,rgb(31.2,32.4,32.2) 1394px,rgb(27.9,29.1,28.9) 1476px)"></div><div style="top:400px;background:linear-gradient(90deg,rgb(9.2,9.7,9.7) 0px,rgb(13.1,13.6,13.6) 82px,rgb(18.0,19.2,19.0) 164px,rgb(23.4,24.6,24.4) 246px,rgb(28.7,29.9,29.7) 328px,rgb(33.5,34.7,34.5) 410px,rgb(38.3,39.5,39.3) 492px,rgb(44.3,45.5,45.3) 574px,rgb(51.8,53.0,52.8) 656px,rgb(58.3,59.5,59.3) 738px,rgb(58.8,60.0,59.8) 820px,rgb(53.8,55.0,54.8) 902px,rgb(48.1,49.3,49.1) 984px,rgb(43.8,45.0,44.8) 1066px,rgb(40.3,41.5,41.3) 1148px,rgb(36.9,38.1,37.9) 1230px,rgb(33.9,35.1,34.9) 1312px,rgb(30.9,32.1,31.9) 1394px,rgb(27.6,28.8,28.6) 1476px)"></div><div style="top:408px;background:linear-gradient(90deg,rgb(9.2,9.7,9.7) 0px,rgb(13.1,13.6,13.6) 82px,rgb(18.0,18.5,18.5) 164px,rgb(23.3,24.5,24.3) 246px,rgb(28.6,29.8,29.6) 328px,rgb(33.4,34.6,34.4) 410px,rgb(38.2,39.4,39.2) 492px,rgb(44.2,45.4,45.2) 574px,rgb(51.6,52.8,52.6) 656px,rgb(58.0,59.2,59.0) 738px,rgb(58.5,59.7,59.5) 820px,rgb(53.5,54.7,54.5) 902px,rgb(47.8,49.0,48.8) 984px,rgb(43.4,44.6,44.4) 1066px,rgb(40.0,41.2,41.0) 1148px,rgb(36.6,37.8,37.6) 1230px,rgb(33.6,34.8,34.6) 1312px,rgb(30.5,31.7,31.5) 1394px,rgb(27.3,28.5,28.3) 1476px)"></div><div style="top:416px;background:linear-gradient(90deg,rgb(9.2,9.7,9.7) 0px,rgb(13.1,13.6,13.6) 82px,rgb(17.9,18.4,18.4) 164px,rgb(23.2,24.4,24.2) 246px,rgb(28.5,29.7,29.5) 328px,rgb(33.3,34.5,34.3) 410px,rgb(38.1,39.3,39.1) 492px,rgb(44.0,45.2,45.0) 574px,rgb(51.4,52.6,52.4) 656px,rgb(57.7,58.9,58.7) 738px,rgb(58.2,59.4,59.2) 820px,rgb(53.2,54.4,54.2) 902px,rgb(47.4,48.6,48.4) 984px,rgb(43.1,44.3,44.1) 1066px,rgb(39.6,40.8,40.6) 1148px,rgb(36.3,37.5,37.3) 1230px,rgb(33.2,34.4,34.2) 1312px,rgb(30.2,31.4,31.2) 1394px,rgb(26.9,28.1,27.9) 1476px)"></div><div style="top:424px;background:linear-gradient(90deg,rgb(9.2,9.7,9.7) 0px,rgb(13.1,13.6,13.6) 82px,rgb(17.9,18.4,18.4) 164px,rgb(23.1,24.3,24.1) 246px,rgb(28.4,29.6,29.4) 328px,rgb(33.2,34.4,34.2) 410px,rgb(38.0,39.2,39.0) 492px,rgb(43.9,45.1,44.9) 574px,rgb(51.1,52.3,52.1) 656px,rgb(57.3,58.5,58.3) 738px,rgb(57.7,58.9,58.7) 820px,rgb(52.8,54.0,53.8) 902px,rgb(47.1,48.3,48.1) 984px,rgb(42.8,44.0,43.8) 1066px,rgb(39.3,40.5,40.3) 1148px,rgb(35.9,37.1,36.9) 1230px,rgb(32.9,34.1,33.9) 1312px,rgb(29.8,31.0,30.8) 1394px,rgb(26.6,27.8,27.6) 1476px)"></div><div style="top:432px;background:linear-gradient(90deg,rgb(9.2,9.7,9.7) 0px,rgb(13.1,13.6,13.6) 82px,rgb(17.8,18.3,18.3) 164px,rgb(23.0,24.2,24.0) 246px,rgb(28.2,29.4,29.2) 328px,rgb(33.0,34.2,34.0) 410px,rgb(37.9,39.1,38.9) 492px,rgb(43.8,45.0,44.8) 574px,rgb(50.8,52.0,51.8) 656px,rgb(56.8,58.0,57.8) 738px,rgb(57.2,58.4,58.2) 820px,rgb(52.4,53.6,53.4) 902px,rgb(46.8,48.0,47.8) 984px,rgb(42.4,43.6,43.4) 1066px,rgb(38.9,40.1,39.9) 1148px,rgb(35.6,36.8,36.6) 1230px,rgb(32.5,33.7,33.5) 1312px,rgb(29.5,30.7,30.5) 1394px,rgb(26.3,27.5,27.3) 1476px)"></div><div style="top:440px;background:linear-gradient(90deg,rgb(9.2,9.7,9.7) 0px,rgb(13.0,13.5,13.5) 82px,rgb(17.7,18.2,18.2) 164px,rgb(22.9,24.1,23.9) 246px,rgb(28.1,29.3,29.1) 328px,rgb(32.9,34.1,33.9) 410px,rgb(37.8,39.0,38.8) 492px,rgb(43.6,44.8,44.6) 574px,rgb(50.5,51.7,51.5) 656px,rgb(56.3,57.5,57.3) 738px,rgb(56.6,57.8,57.6) 820px,rgb(51.9,53.1,52.9) 902px,rgb(46.4,47.6,47.4) 984px,rgb(42.1,43.3,43.1) 1066px,rgb(38.5,39.7,39.5) 1148px,rgb(35.2,36.4,36.2) 1230px,rgb(32.2,33.4,33.2) 1312px,rgb(29.1,30.3,30.1) 1394px,rgb(25.9,27.1,26.9) 1476px)"></div><div style="top:448px;background:linear-gradient(90deg,rgb(9.3,9.8,9.8) 0px,rgb(13.0,13.5,13.5) 82px,rgb(17.6,18.1,18.1) 164px,rgb(22.8,24.0,23.8) 246px,rgb(27.9,29.1,28.9) 328px,rgb(32.8,34.0,33.8) 410px,rgb(37.6,38.8,38.6) 492px,rgb(43.4,44.6,44.4) 574px,rgb(50.2,51.4,51.2) 656px,rgb(55.7,56.9,56.7) 738px,rgb(56.0,57.2,57.0) 820px,rgb(51.5,52.7,52.5) 902px,rgb(46.0,47.2,47.0) 984px,rgb(41.7,42.9,42.7) 1066px,rgb(38.2,39.4,39.2) 1148px,rgb(34.9,36.1,35.9) 1230px,rgb(31.8,33.0,32.8) 1312px,rgb(28.7,29.9,29.7) 1394px,rgb(25.5,26.7,26.5) 1476px)"></div><div style="top:456px;background:linear-gradient(90deg,rgb(9.3,9.8,9.8) 0px,rgb(13.0,13.5,13.5) 82px,rgb(17.5,18.0,18.0) 164px,rgb(22.6,23.8,23.6) 246px,rgb(27.8,29.0,28.8) 328px,rgb(32.6,33.8,33.6) 410px,rgb(37.5,38.7,38.5) 492px,rgb(43.3,44.5,44.3) 574px,rgb(49.8,51.0,50.8) 656px,rgb(55.0,56.2,56.0) 738px,rgb(55.3,56.5,56.3) 820px,rgb(50.9,52.1,51.9) 902px,rgb(45.7,46.9,46.7) 984px,rgb(41.3,42.5,42.3) 1066px,rgb(37.8,39.0,38.8) 1148px,rgb(34.6,35.8,35.6) 1230px,rgb(31.5,32.7,32.5) 1312px,rgb(28.4,29.6,29.4) 1394px,rgb(25.2,26.4,26.2) 1476px)"></div><div style="top:464px;background:linear-gradient(90deg,rgb(9.3,9.8,9.8) 0px,rgb(13.0,13.5,13.5) 82px,rgb(17.5,18.0,18.0) 164px,rgb(22.5,23.7,23.5) 246px,rgb(27.6,28.8,28.6) 328px,rgb(32.4,33.6,33.4) 410px,rgb(37.4,38.6,38.4) 492px,rgb(43.1,44.3,44.1) 574px,rgb(49.4,50.6,50.4) 656px,rgb(54.3,55.5,55.3) 738px,rgb(54.5,55.7,55.5) 820px,rgb(50.4,51.6,51.4) 902px,rgb(45.3,46.5,46.3) 984px,rgb(41.0,42.2,42.0) 1066px,rgb(37.5,38.7,38.5) 1148px,rgb(34.2,35.4,35.2) 1230px,rgb(31.1,32.3,32.1) 1312px,rgb(28.0,29.2,29.0) 1394px,rgb(24.8,26.0,25.8) 1476px)"></div><div style="top:472px;background:linear-gradient(90deg,rgb(9.3,9.8,9.8) 0px,rgb(12.9,13.4,13.4) 82px,rgb(17.4,17.9,17.9) 164px,rgb(22.3,23.5,23.3) 246px,rgb(27.4,28.6,28.4) 328px,rgb(32.3,33.5,33.3) 410px,rgb(37.2,38.4,38.2) 492px,rgb(42.8,44.0,43.8) 574px,rgb(48.9,50.1,49.9) 656px,rgb(53.5,54.7,54.5) 738px,rgb(53.8,55.0,54.8) 820px,rgb(49.8,51.0,50.8) 902px,rgb(44.8,46.0,45.8) 984px,rgb(40.6,41.8,41.6) 1066px,rgb(37.1,38.3,38.1) 1148px,rgb(33.9,35.1,34.9) 1230px,rgb(30.8,32.0,31.8) 1312px,rgb(27.6,28.8,28.6) 1394px,rgb(24.5,25.7,25.5) 1476px)"></div><div style="top:480px;background:linear-gradient(90deg,rgb(9.3,9.8,9.8) 0px,rgb(12.9,13.4,13.4) 82px,rgb(17.3,17.8,17.8) 164px,rgb(22.2,23.4,23.2) 246px,rgb(27.2,28.4,28.2) 328px,rgb(32.1,33.3,33.1) 410px,rgb(37.1,38.3,38.1) 492px,rgb(42.6,43.8,43.6) 574px,rgb(48.5,49.7,49.5) 656px,rgb(52.8,54.0,53.8) 738px,rgb(52.9,54.1,53.9) 820px,rgb(49.3,50.5,50.3) 902px,rgb(44.4,45.6,45.4) 984px,rgb(40.2,41.4,41.2) 1066px,rgb(36.8,38.0,37.8) 1148px,rgb(33.5,34.7,34.5) 1230px,rgb(30.4,31.6,31.4) 1312px,rgb(27.2,28.4,28.2) 1394px,rgb(24.1,25.3,25.1) 1476px)"></div><div style="top:488px;background:linear-gradient(90deg,rgb(9.4,9.9,9.9) 0px,rgb(12.9,13.4,13.4) 82px,rgb(17.2,17.7,17.7) 164px,rgb(22.0,23.2,23.0) 246px,rgb(27.0,28.2,28.0) 328px,rgb(31.9,33.1,32.9) 410px,rgb(36.9,38.1,37.9) 492px,rgb(42.4,43.6,43.4) 574px,rgb(48.0,49.2,49.0) 656px,rgb(52.0,53.2,53.0) 738px,rgb(52.1,53.3,53.1) 820px,rgb(48.7,49.9,49.7) 902px,rgb(44.0,45.2,45.0) 984px,rgb(39.8,41.0,40.8) 1066px,rgb(36.4,37.6,37.4) 1148px,rgb(33.2,34.4,34.2) 1230px,rgb(30.0,31.2,31.0) 1312px,rgb(26.9,28.1,27.9) 1394px,rgb(23.7,24.9,24.7) 1476px)"></div><div style="top:496px;background:linear-gradient(90deg,rgb(9.4,9.9,9.9) 0px,rgb(12.8,13.3,13.3) 82px,rgb(17.1,17.6,17.6) 164px,rgb(21.8,23.0,22.8) 246px,rgb(26.8,28.0,27.8) 328px,rgb(31.7,32.9,32.7) 410px,rgb(36.7,37.9,37.7) 492px,rgb(42.1,43.3,43.1) 574px,rgb(47.5,48.7,48.5) 656px,rgb(51.1,52.3,52.1) 738px,rgb(51.3,52.5,52.3) 820px,rgb(48.0,49.2,49.0) 902px,rgb(43.5,44.7,44.5) 984px,rgb(39.4,40.6,40.4) 1066px,rgb(36.0,37.2,37.0) 1148px,rgb(32.8,34.0,33.8) 1230px,rgb(29.7,30.9,30.7) 1312px,rgb(26.5,27.7,27.5) 1394px,rgb(23.3,24.5,24.3) 1476px)"></div><div style="top:504px;background:linear-gradient(90deg,rgb(9.4,9.9,9.9) 0px,rgb(12.8,13.3,13.3) 82px,rgb(16.9,17.4,17.4) 164px,rgb(21.7,22.9,22.7) 246px,rgb(26.6,27.8,27.6) 328px,rgb(31.5,32.7,32.5) 410px,rgb(36.5,37.7,37.5) 492px,rgb(41.8,43.0,42.8) 574px,rgb(47.0,48.2,48.0) 656px,rgb(50.3,51.5,51.3) 738px,rgb(50.4,51.6,51.4) 820px,rgb(47.4,48.6,48.4) 902px,rgb(43.1,44.3,44.1) 984px,rgb(39.1,40.3,40.1) 1066px,rgb(35.7,36.9,36.7) 1148px,rgb(32.5,33.7,33.5) 1230px,rgb(29.3,30.5,30.3) 1312px,rgb(26.1,27.3,27.1) 1394px,rgb(22.9,24.1,23.9) 1476px)"></div><div style="top:512px;background:linear-gradient(90deg,rgb(9.4,9.9,9.9) 0px,rgb(12.7,13.2,13.2) 82px,rgb(16.8,17.3,17.3) 164px,rgb(21.5,22.7,22.5) 246px,rgb(26.4,27.6,27.4) 328px,rgb(31.3,32.5,32.3) 410px,rgb(36.3,37.5,37.3) 492px,rgb(41.5,42.7,42.5) 574px,rgb(46.4,47.6,47.4) 656px,rgb(49.5,50.7,50.5) 738px,rgb(49.5,50.7,50.5) 820px,rgb(46.8,48.0,47.8) 902px,rgb(42.6,43.8,43.6) 984px,rgb(38.6,39.8,39.6) 1066px,rgb(35.3,36.5,36.3) 1148px,rgb(32.1,33.3,33.1) 1230px,rgb(28.9,30.1,29.9) 1312px,rgb(25.7,26.9,26.7) 1394px,rgb(22.6,23.8,23.6) 1476px)"></div><div style="top:520px;background:linear-gradient(90deg,rgb(9.4,9.9,9.9) 0px,rgb(12.7,13.2,13.2) 82px,rgb(16.7,17.2,17.2) 164px,rgb(21.3,22.5,22.3) 246px,rgb(26.2,27.4,27.2) 328px,rgb(31.1,32.3,32.1) 410px,rgb(36.1,37.3,37.1) 492px,rgb(41.2,42.4,42.2) 574px,rgb(45.9,47.1,46.9) 656px,rgb(48.6,49.8,49.6) 738px,rgb(48.7,49.9,49.7) 820px,rgb(46.1,47.3,47.1) 902px,rgb(42.1,43.3,43.1) 984px,rgb(38.2,39.4,39.2) 1066px,rgb(34.9,36.1,35.9) 1148px,rgb(31.8,33.0,32.8) 1230px,rgb(28.6,29.8,29.6) 1312px,rgb(25.3,26.5,26.3) 1394px,rgb(22.2,23.4,23.2) 1476px)"></div><div style="top:528px;background:linear-gradient(90deg,rgb(9.4,9.9,9.9) 0px,rgb(12.6,13.1,13.1) 82px,rgb(16.6,17.1,17.1) 164px,rgb(21.1,22.3,22.1) 246px,rgb(26.0,27.2,27.0) 328px,rgb(30.9,32.1,31.9) 410px,rgb(35.9,37.1,36.9) 492px,rgb(40.9,42.1,41.9) 574px,rgb(45.3,46.5,46.3) 656px,rgb(47.8,49.0,48.8) 738px,rgb(47.8,49.0,48.8) 820px,rgb(45.4,46.6,46.4) 902px,rgb(41.6,42.8,42.6) 984px,rgb(37.8,39.0,38.8) 1066px,rgb(34.5,35.7,35.5) 1148px,rgb(31.4,32.6,32.4) 1230px,rgb(28.2,29.4,29.2) 1312px,rgb(24.9,26.1,25.9) 1394px,rgb(21.8,23.0,22.8) 1476px)"></div><div style="top:536px;background:linear-gradient(90deg,rgb(9.4,9.9,9.9) 0px,rgb(12.6,13.1,13.1) 82px,rgb(16.4,16.9,16.9) 164px,rgb(20.9,22.1,21.9) 246px,rgb(25.7,26.9,26.7) 328px,rgb(30.7,31.9,31.7) 410px,rgb(35.7,36.9,36.7) 492px,rgb(40.6,41.8,41.6) 574px,rgb(44.8,46.0,45.8) 656px,rgb(47.0,48.2,48.0) 738px,rgb(46.9,48.1,47.9) 820px,rgb(44.8,46.0,45.8) 902px,rgb(41.1,42.3,42.1) 984px,rgb(37.4,38.6,38.4) 1066px,rgb(34.1,35.3,35.1) 1148px,rgb(31.0,32.2,32.0) 1230px,rgb(27.8,29.0,28.8) 1312px,rgb(24.5,25.7,25.5) 1394px,rgb(21.4,22.6,22.4) 1476px)"></div><div style="top:544px;background:linear-gradient(90deg,rgb(9.4,9.9,9.9) 0px,rgb(12.5,13.0,13.0) 82px,rgb(16.3,16.8,16.8) 164px,rgb(20.7,21.9,21.7) 246px,rgb(25.5,26.7,26.5) 328px,rgb(30.4,31.6,31.4) 410px,rgb(35.4,36.6,36.4) 492px,rgb(40.2,41.4,41.2) 574px,rgb(44.2,45.4,45.2) 656px,rgb(46.2,47.4,47.2) 738px,rgb(46.1,47.3,47.1) 820px,rgb(44.1,45.3,45.1) 902px,rgb(40.6,41.8,41.6) 984px,rgb(37.0,38.2,38.0) 1066px,rgb(33.7,34.9,34.7) 1148px,rgb(30.7,31.9,31.7) 1230px,rgb(27.4,28.6,28.4) 1312px,rgb(24.1,25.3,25.1) 1394px,rgb(21.0,22.2,22.0) 1476px)"></div><div style="top:552px;background:linear-gradient(90deg,rgb(9.4,9.9,9.9) 0px,rgb(12.4,12.9,12.9) 82px,rgb(16.1,16.6,16.6) 164px,rgb(20.5,21.7,21.5) 246px,rgb(25.2,26.4,26.2) 328px,rgb(30.2,31.4,31.2) 410px,rgb(35.2,36.4,36.2) 492px,rgb(39.9,41.1,40.9) 574px,rgb(43.6,44.8,44.6) 656px,rgb(45.4,46.6,46.4) 738px,rgb(45.3,46.5,46.3) 820px,rgb(43.4,44.6,44.4) 902px,rgb(40.0,41.2,41.0) 984px,rgb(36.5,37.7,37.5) 1066px,rgb(33.3,34.5,34.3) 1148px,rgb(30.3,31.5,31.3) 1230px,rgb(27.0,28.2,28.0) 1312px,rgb(23.7,24.9,24.7) 1394px,rgb(20.6,21.8,21.6) 1476px)"></div><div style="top:560px;background:linear-gradient(90deg,rgb(9.4,9.9,9.9) 0px,rgb(12.3,12.8,12.8) 82px,rgb(16.0,16.5,16.5) 164px,rgb(20.2,21.4,21.2) 246px,rgb(25.0,26.2,26.0) 328px,rgb(29.9,31.1,30.9) 410px,rgb(34.9,36.1,35.9) 492px,rgb(39.5,40.7,40.5) 574px,rgb(43.1,44.3,44.1) 656px,rgb(44.6,45.8,45.6) 738px,rgb(44.5,45.7,45.5) 820px,rgb(42.8,44.0,43.8) 902px,rgb(39.5,40.7,40.5) 984px,rgb(36.1,37.3,37.1) 1066px,rgb(32.9,34.1,33.9) 1148px,rgb(29.9,31.1,30.9) 1230px,rgb(26.6,27.8,27.6) 1312px,rgb(23.3,24.5,24.3) 1394px,rgb(20.2,21.4,21.2) 1476px)"></div><div style="top:568px;background:linear-gradient(90deg,rgb(9.4,9.9,9.9) 0px,rgb(12.3,12.8,12.8) 82px,rgb(15.8,16.3,16.3) 164px,rgb(20.0,21.2,21.0) 246px,rgb(24.7,25.9,25.7) 328px,rgb(29.6,30.8,30.6) 410px,rgb(34.6,35.8,35.6) 492px,rgb(39.2,40.4,40.2) 574px,rgb(42.5,43.7,43.5) 656px,rgb(43.9,45.1,44.9) 738px,rgb(43.8,45.0,44.8) 820px,rgb(42.1,43.3,43.1) 902px,rgb(39.0,40.2,40.0) 984px,rgb(35.6,36.8,36.6) 1066px,rgb(32.5,33.7,33.5) 1148px,rgb(29.5,30.7,30.5) 1230px,rgb(26.2,27.4,27.2) 1312px,rgb(22.9,24.1,23.9) 1394px,rgb(19.8,21.0,20.8) 1476px)"></div><div style="top:576px;background:linear-gradient(90deg,rgb(9.4,9.9,9.9) 0px,rgb(12.2,12.7,12.7) 82px,rgb(15.6,16.1,16.1) 164px,rgb(19.8,21.0,20.8) 246px,rgb(24.4,25.6,25.4) 328px,rgb(29.4,30.6,30.4) 410px,rgb(34.3,35.5,35.3) 492px,rgb(38.8,40.0,39.8) 574px,rgb(42.0,43.2,43.0) 656px,rgb(43.2,44.4,44.2) 738px,rgb(43.0,44.2,44.0) 820px,rgb(41.4,42.6,42.4) 902px,rgb(38.4,39.6,39.4) 984px,rgb(35.1,36.3,36.1) 1066px,rgb(32.1,33.3,33.1) 1148px,rgb(29.1,30.3,30.1) 1230px,rgb(25.8,27.0,26.8) 1312px,rgb(22.5,23.7,23.5) 1394px,rgb(19.4,20.6,20.4) 1476px)"></div><div style="top:584px;background:linear-gradient(90deg,rgb(9.3,9.8,9.8) 0px,rgb(12.1,12.6,12.6) 82px,rgb(15.4,15.9,15.9) 164px,rgb(19.5,20.7,20.5) 246px,rgb(24.1,25.3,25.1) 328px,rgb(29.1,30.3,30.1) 410px,rgb(34.0,35.2,35.0) 492px,rgb(38.4,39.6,39.4) 574px,rgb(41.4,42.6,42.4) 656px,rgb(42.5,43.7,43.5) 738px,rgb(42.3,43.5,43.3) 820px,rgb(40.8,42.0,41.8) 902px,rgb(37.9,39.1,38.9) 984px,rgb(34.7,35.9,35.7) 1066px,rgb(31.7,32.9,32.7) 1148px,rgb(28.7,29.9,29.7) 1230px,rgb(25.4,26.6,26.4) 1312px,rgb(22.1,23.3,23.1) 1394px,rgb(19.0,20.2,20.0) 1476px)"></div><div style="top:592px;background:linear-gradient(90deg,rgb(9.3,9.8,9.8) 0px,rgb(12.0,12.5,12.5) 82px,rgb(15.2,15.7,15.7) 164px,rgb(19.3,20.5,20.3) 246px,rgb(23.9,25.1,24.9) 328px,rgb(28.8,30.0,29.8) 410px,rgb(33.7,34.9,34.7) 492px,rgb(38.0,39.2,39.0) 574px,rgb(40.8,42.0,41.8) 656px,rgb(41.8,43.0,42.8) 738px,rgb(41.6,42.8,42.6) 820px,rgb(40.1,41.3,41.1) 902px,rgb(37.3,38.5,38.3) 984px,rgb(34.2,35.4,35.2) 1066px,rgb(31.2,32.4,32.2) 1148px,rgb(28.3,29.5,29.3) 1230px,rgb(25.0,26.2,26.0) 1312px,rgb(21.7,22.9,22.7) 1394px,rgb(18.6,19.8,19.6) 1476px)"></div><div style="top:600px;background:linear-gradient(90deg,rgb(9.3,9.8,9.8) 0px,rgb(11.9,12.4,12.4) 82px,rgb(15.1,15.6,15.6) 164px,rgb(19.0,20.2,20.0) 246px,rgb(23.6,24.8,24.6) 328px,rgb(28.4,29.6,29.4) 410px,rgb(33.4,34.6,34.4) 492px,rgb(37.6,38.8,38.6) 574px,rgb(40.3,41.5,41.3) 656px,rgb(41.2,42.4,42.2) 738px,rgb(40.9,42.1,41.9) 820px,rgb(39.5,40.7,40.5) 902px,rgb(36.8,38.0,37.8) 984px,rgb(33.7,34.9,34.7) 1066px,rgb(30.8,32.0,31.8) 1148px,rgb(27.9,29.1,28.9) 1230px,rgb(24.6,25.8,25.6) 1312px,rgb(21.3,22.5,22.3) 1394px,rgb(18.2,19.4,19.2) 1476px)"></div><div style="top:608px;background:linear-gradient(90deg,rgb(9.2,9.7,9.7) 0px,rgb(11.8,12.3,12.3) 82px,rgb(14.9,15.4,15.4) 164px,rgb(18.7,19.9,19.7) 246px,rgb(23.2,24.4,24.2) 328px,rgb(28.1,29.3,29.1) 410px,rgb(33.0,34.2,34.0) 492px,rgb(37.2,38.4,38.2) 574px,rgb(39.7,40.9,40.7) 656px,rgb(40.6,41.8,41.6) 738px,rgb(40.2,41.4,41.2) 820px,rgb(38.9,40.1,39.9) 902px,rgb(36.2,37.4,37.2) 984px,rgb(33.3,34.5,34.3) 1066px,rgb(30.4,31.6,31.4) 1148px,rgb(27.5,28.7,28.5) 1230px,rgb(24.2,25.4,25.2) 1312px,rgb(20.9,22.1,21.9) 1394px,rgb(17.8,18.3,18.3) 1476px)"></div><div style="top:616px;background:linear-gradient(90deg,rgb(9.2,9.7,9.7) 0px,rgb(11.6,12.1,12.1) 82px,rgb(14.6,15.1,15.1) 164px,rgb(18.4,19.6,19.4) 246px,rgb(22.9,24.1,23.9) 328px,rgb(27.8,29.0,28.8) 410px,rgb(32.7,33.9,33.7) 492px,rgb(36.8,38.0,37.8) 574px,rgb(39.2,40.4,40.2) 656px,rgb(39.9,41.1,40.9) 738px,rgb(39.6,40.8,40.6) 820px,rgb(38.2,39.4,39.2) 902px,rgb(35.7,36.9,36.7) 984px,rgb(32.8,34.0,33.8) 1066px,rgb(29.9,31.1,30.9) 1148px,rgb(27.0,28.2,28.0) 1230px,rgb(23.8,25.0,24.8) 1312px,rgb(20.5,21.7,21.5) 1394px,rgb(17.4,17.9,17.9) 1476px)"></div><div style="top:624px;background:linear-gradient(90deg,rgb(9.1,9.6,9.6) 0px,rgb(11.5,12.0,12.0) 82px,rgb(14.4,14.9,14.9) 164px,rgb(18.2,19.4,19.2) 246px,rgb(22.6,23.8,23.6) 328px,rgb(27.4,28.6,28.4) 410px,rgb(32.3,33.5,33.3) 492px,rgb(36.3,37.5,37.3) 574px,rgb(38.6,39.8,39.6) 656px,rgb(39.3,40.5,40.3) 738px,rgb(39.0,40.2,40.0) 820px,rgb(37.6,38.8,38.6) 902px,rgb(35.2,36.4,36.2) 984px,rgb(32.3,33.5,33.3) 1066px,rgb(29.5,30.7,30.5) 1148px,rgb(26.6,27.8,27.6) 1230px,rgb(23.4,24.6,24.4) 1312px,rgb(20.1,21.3,21.1) 1394px,rgb(17.0,17.5,17.5) 1476px)"></div><div style="top:632px;background:linear-gradient(90deg,rgb(9.1,9.6,9.6) 0px,rgb(11.4,11.9,11.9) 82px,rgb(14.2,14.7,14.7) 164px,rgb(17.9,18.4,18.4) 246px,rgb(22.3,23.5,23.3) 328px,rgb(27.1,28.3,28.1) 410px,rgb(31.9,33.1,32.9) 492px,rgb(35.9,37.1,36.9) 574px,rgb(38.1,39.3,39.1) 656px,rgb(38.7,39.9,39.7) 738px,rgb(38.3,39.5,39.3) 820px,rgb(37.0,38.2,38.0) 902px,rgb(34.6,35.8,35.6) 984px,rgb(31.8,33.0,32.8) 1066px,rgb(29.0,30.2,30.0) 1148px,rgb(26.2,27.4,27.2) 1230px,rgb(22.9,24.1,23.9) 1312px,rgb(19.7,20.9,20.7) 1394px,rgb(16.6,17.1,17.1) 1476px)"></div><div style="top:640px;background:linear-gradient(90deg,rgb(9.0,9.5,9.5) 0px,rgb(11.3,11.8,11.8) 82px,rgb(14.0,14.5,14.5) 164px,rgb(17.6,18.1,18.1) 246px,rgb(21.9,23.1,22.9) 328px,rgb(26.7,27.9,27.7) 410px,rgb(31.5,32.7,32.5) 492px,rgb(35.4,36.6,36.4) 574px,rgb(37.5,38.7,38.5) 656px,rgb(38.1,39.3,39.1) 738px,rgb(37.7,38.9,38.7) 820px,rgb(36.4,37.6,37.4) 902px,rgb(34.1,35.3,35.1) 984px,rgb(31.3,32.5,32.3) 1066px,rgb(28.6,29.8,29.6) 1148px,rgb(25.7,26.9,26.7) 1230px,rgb(22.5,23.7,23.5) 1312px,rgb(19.2,20.4,20.2) 1394px,rgb(16.2,16.7,16.7) 1476px)"></div><div style="top:648px;background:linear-gradient(90deg,rgb(9.0,9.5,9.5) 0px,rgb(11.1,11.6,11.6) 82px,rgb(13.8,14.3,14.3) 164px,rgb(17.3,17.8,17.8) 246px,rgb(21.6,22.8,22.6) 328px,rgb(26.3,27.5,27.3) 410px,rgb(31.1,32.3,32.1) 492px,rgb(35.0,36.2,36.0) 574px,rgb(37.0,38.2,38.0) 656px,rgb(37.5,38.7,38.5) 738px,rgb(37.1,38.3,38.1) 820px,rgb(35.8,37.0,36.8) 902px,rgb(33.5,34.7,34.5) 984px,rgb(30.8,32.0,31.8) 1066px,rgb(28.1,29.3,29.1) 1148px,rgb(25.3,26.5,26.3) 1230px,rgb(22.1,23.3,23.1) 1312px,rgb(18.8,20.0,19.8) 1394px,rgb(15.8,16.3,16.3) 1476px)"></div><div style="top:656px;background:linear-gradient(90deg,rgb(8.9,9.4,9.4) 0px,rgb(11.0,11.5,11.5) 82px,rgb(13.5,14.0,14.0) 164px,rgb(16.9,17.4,17.4) 246px,rgb(21.2,22.4,22.2) 328px,rgb(26.0,27.2,27.0) 410px,rgb(30.7,31.9,31.7) 492px,rgb(34.5,35.7,35.5) 574px,rgb(36.4,37.6,37.4) 656px,rgb(36.9,38.1,37.9) 738px,rgb(36.5,37.7,37.5) 820px,rgb(35.2,36.4,36.2) 902px,rgb(33.0,34.2,34.0) 984px,rgb(30.3,31.5,31.3) 1066px,rgb(27.6,28.8,28.6) 1148px,rgb(24.8,26.0,25.8) 1230px,rgb(21.7,22.9,22.7) 1312px,rgb(18.4,19.6,19.4) 1394px,rgb(15.4,15.9,15.9) 1476px)"></div><div style="top:664px;background:linear-gradient(90deg,rgb(8.9,9.4,9.4) 0px,rgb(10.8,11.3,11.3) 82px,rgb(13.3,13.8,13.8) 164px,rgb(16.6,17.1,17.1) 246px,rgb(20.9,22.1,21.9) 328px,rgb(25.6,26.8,26.6) 410px,rgb(30.3,31.5,31.3) 492px,rgb(34.0,35.2,35.0) 574px,rgb(35.9,37.1,36.9) 656px,rgb(36.4,37.6,37.4) 738px,rgb(35.9,37.1,36.9) 820px,rgb(34.6,35.8,35.6) 902px,rgb(32.4,33.6,33.4) 984px,rgb(29.8,31.0,30.8) 1066px,rgb(27.2,28.4,28.2) 1148px,rgb(24.4,25.6,25.4) 1230px,rgb(21.2,22.4,22.2) 1312px,rgb(18.0,19.2,19.0) 1394px,rgb(15.0,15.5,15.5) 1476px)"></div><div style="top:672px;background:linear-gradient(90deg,rgb(8.8,9.3,9.3) 0px,rgb(10.7,11.2,11.2) 82px,rgb(13.0,13.5,13.5) 164px,rgb(16.3,16.8,16.8) 246px,rgb(20.5,21.7,21.5) 328px,rgb(25.2,26.4,26.2) 410px,rgb(29.8,31.0,30.8) 492px,rgb(33.5,34.7,34.5) 574px,rgb(35.3,36.5,36.3) 656px,rgb(35.8,37.0,36.8) 738px,rgb(35.3,36.5,36.3) 820px,rgb(34.1,35.3,35.1) 902px,rgb(31.9,33.1,32.9) 984px,rgb(29.3,30.5,30.3) 1066px,rgb(26.7,27.9,27.7) 1148px,rgb(23.9,25.1,24.9) 1230px,rgb(20.8,22.0,21.8) 1312px,rgb(17.6,18.1,18.1) 1394px,rgb(14.7,15.2,15.2) 1476px)"></div><div style="top:680px;background:linear-gradient(90deg,rgb(8.7,9.2,9.2) 0px,rgb(10.5,11.0,11.0) 82px,rgb(12.8,13.3,13.3) 164px,rgb(16.0,16.5,16.5) 246px,rgb(20.1,21.3,21.1) 328px,rgb(24.8,26.0,25.8) 410px,rgb(29.3,30.5,30.3) 492px,rgb(32.9,34.1,33.9) 574px,rgb(34.8,36.0,35.8) 656px,rgb(35.2,36.4,36.2) 738px,rgb(34.8,36.0,35.8) 820px,rgb(33.5,34.7,34.5) 902px,rgb(31.4,32.6,32.4) 984px,rgb(28.8,30.0,29.8) 1066px,rgb(26.2,27.4,27.2) 1148px,rgb(23.4,24.6,24.4) 1230px,rgb(20.4,21.6,21.4) 1312px,rgb(17.2,17.7,17.7) 1394px,rgb(14.3,14.8,14.8) 1476px)"></div><div style="top:688px;background:linear-gradient(90deg,rgb(8.7,9.2,9.2) 0px,rgb(10.4,10.9,10.9) 82px,rgb(12.5,13.0,13.0) 164px,rgb(15.6,16.1,16.1) 246px,rgb(19.7,20.9,20.7) 328px,rgb(24.3,25.5,25.3) 410px,rgb(28.9,30.1,29.9) 492px,rgb(32.4,33.6,33.4) 574px,rgb(34.3,35.5,35.3) 656px,rgb(34.7,35.9,35.7) 738px,rgb(34.2,35.4,35.2) 820px,rgb(33.0,34.2,34.0) 902px,rgb(30.8,32.0,31.8) 984px,rgb(28.3,29.5,29.3) 1066px,rgb(25.7,26.9,26.7) 1148px,rgb(23.0,24.2,24.0) 1230px,rgb(19.9,21.1,20.9) 1312px,rgb(16.8,17.3,17.3) 1394px,rgb(13.9,14.4,14.4) 1476px)"></div><div style="top:696px;background:linear-gradient(90deg,rgb(8.6,9.1,9.1) 0px,rgb(10.2,10.7,10.7) 82px,rgb(12.2,12.7,12.7) 164px,rgb(15.3,15.8,15.8) 246px,rgb(19.4,20.6,20.4) 328px,rgb(23.9,25.1,24.9) 410px,rgb(28.4,29.6,29.4) 492px,rgb(31.9,33.1,32.9) 574px,rgb(33.7,34.9,34.7) 656px,rgb(34.2,35.4,35.2) 738px,rgb(33.7,34.9,34.7) 820px,rgb(32.4,33.6,33.4) 902px,rgb(30.3,31.5,31.3) 984px,rgb(27.8,29.0,28.8) 1066px,rgb(25.3,26.5,26.3) 1148px,rgb(22.5,23.7,23.5) 1230px,rgb(19.5,20.7,20.5) 1312px,rgb(16.4,16.9,16.9) 1394px,rgb(13.5,14.0,14.0) 1476px)"></div><div style="top:704px;background:linear-gradient(90deg,rgb(8.5,9.0,9.0) 0px,rgb(10.1,10.6,10.6) 82px,rgb(12.0,12.5,12.5) 164px,rgb(14.9,15.4,15.4) 246px,rgb(19.0,20.2,20.0) 328px,rgb(23.5,24.7,24.5) 410px,rgb(27.9,29.1,28.9) 492px,rgb(31.4,32.6,32.4) 574px,rgb(33.2,34.4,34.2) 656px,rgb(33.6,34.8,34.6) 738px,rgb(33.2,34.4,34.2) 820px,rgb(31.9,33.1,32.9) 902px,rgb(29.8,31.0,30.8) 984px,rgb(27.3,28.5,28.3) 1066px,rgb(24.8,26.0,25.8) 1148px,rgb(22.1,23.3,23.1) 1230px,rgb(19.1,20.3,20.1) 1312px,rgb(16.0,16.5,16.5) 1394px,rgb(13.1,13.6,13.6) 1476px)"></div><div style="top:712px;background:linear-gradient(90deg,rgb(8.4,8.9,8.9) 0px,rgb(9.9,10.4,10.4) 82px,rgb(11.7,12.2,12.2) 164px,rgb(14.6,15.1,15.1) 246px,rgb(18.6,19.8,19.6) 328px,rgb(23.1,24.3,24.1) 410px,rgb(27.4,28.6,28.4) 492px,rgb(30.8,32.0,31.8) 574px,rgb(32.7,33.9,33.7) 656px,rgb(33.1,34.3,34.1) 738px,rgb(32.6,33.8,33.6) 820px,rgb(31.3,32.5,32.3) 902px,rgb(29.3,30.5,30.3) 984px,rgb(26.8,28.0,27.8) 1066px,rgb(24.3,25.5,25.3) 1148px,rgb(21.6,22.8,22.6) 1230px,rgb(18.6,19.8,19.6) 1312px,rgb(15.6,16.1,16.1) 1394px,rgb(12.7,13.2,13.2) 1476px)"></div><div style="top:720px;background:linear-gradient(90deg,rgb(8.4,8.9,8.9) 0px,rgb(9.7,10.2,10.2) 82px,rgb(11.4,11.9,11.9) 164px,rgb(14.2,14.7,14.7) 246px,rgb(18.2,19.4,19.2) 328px,rgb(22.6,23.8,23.6) 410px,rgb(26.9,28.1,27.9) 492px,rgb(30.3,31.5,31.3) 574px,rgb(32.1,33.3,33.1) 656px,rgb(32.6,33.8,33.6) 738px,rgb(32.1,33.3,33.1) 820px,rgb(30.8,32.0,31.8) 902px,rgb(28.7,29.9,29.7) 984px,rgb(26.3,27.5,27.3) 1066px,rgb(23.8,25.0,24.8) 1148px,rgb(21.2,22.4,22.2) 1230px,rgb(18.2,19.4,19.2) 1312px,rgb(15.2,15.7,15.7) 1394px,rgb(12.4,12.9,12.9) 1476px)"></div><div style="top:728px;background:linear-gradient(90deg,rgb(8.3,8.8,8.8) 0px,rgb(9.5,10.0,10.0) 82px,rgb(11.1,11.6,11.6) 164px,rgb(13.9,14.4,14.4) 246px,rgb(17.8,18.3,18.3) 328px,rgb(22.2,23.4,23.2) 410px,rgb(26.4,27.6,27.4) 492px,rgb(29.7,30.9,30.7) 574px,rgb(31.6,32.8,32.6) 656px,rgb(32.1,33.3,33.1) 738px,rgb(31.6,32.8,32.6) 820px,rgb(30.3,31.5,31.3) 902px,rgb(28.2,29.4,29.2) 984px,rgb(25.8,27.0,26.8) 1066px,rgb(23.4,24.6,24.4) 1148px,rgb(20.7,21.9,21.7) 1230px,rgb(17.8,18.3,18.3) 1312px,rgb(14.8,15.3,15.3) 1394px,rgb(12.0,12.5,12.5) 1476px)"></div><div style="top:736px;background:linear-gradient(90deg,rgb(8.2,8.7,8.7) 0px,rgb(9.4,9.9,9.9) 82px,rgb(10.8,11.3,11.3) 164px,rgb(13.5,14.0,14.0) 246px,rgb(17.4,17.9,17.9) 328px,rgb(21.7,22.9,22.7) 410px,rgb(25.9,27.1,26.9) 492px,rgb(29.2,30.4,30.2) 574px,rgb(31.1,32.3,32.1) 656px,rgb(31.6,32.8,32.6) 738px,rgb(31.1,32.3,32.1) 820px,rgb(29.8,31.0,30.8) 902px,rgb(27.7,28.9,28.7) 984px,rgb(25.4,26.6,26.4) 1066px,rgb(22.9,24.1,23.9) 1148px,rgb(20.3,21.5,21.3) 1230px,rgb(17.4,17.9,17.9) 1312px,rgb(14.4,14.9,14.9) 1394px,rgb(11.6,12.1,12.1) 1476px)"></div><div style="top:744px;background:linear-gradient(90deg,rgb(8.1,8.6,8.6) 0px,rgb(9.2,9.7,9.7) 82px,rgb(10.5,11.0,11.0) 164px,rgb(13.1,13.6,13.6) 246px,rgb(17.0,17.5,17.5) 328px,rgb(21.3,22.5,22.3) 410px,rgb(25.4,26.6,26.4) 492px,rgb(28.7,29.9,29.7) 574px,rgb(30.5,31.7,31.5) 656px,rgb(31.1,32.3,32.1) 738px,rgb(30.6,31.8,31.6) 820px,rgb(29.2,30.4,30.2) 902px,rgb(27.2,28.4,28.2) 984px,rgb(24.9,26.1,25.9) 1066px,rgb(22.4,23.6,23.4) 1148px,rgb(19.8,21.0,20.8) 1230px,rgb(16.9,17.4,17.4) 1312px,rgb(14.0,14.5,14.5) 1394px,rgb(11.3,11.8,11.8) 1476px)"></div><div style="top:752px;background:linear-gradient(90deg,rgb(8.0,8.5,8.5) 0px,rgb(9.0,9.5,9.5) 82px,rgb(10.3,10.8,10.8) 164px,rgb(12.8,13.3,13.3) 246px,rgb(16.6,17.1,17.1) 328px,rgb(20.8,22.0,21.8) 410px,rgb(24.9,26.1,25.9) 492px,rgb(28.1,29.3,29.1) 574px,rgb(30.0,31.2,31.0) 656px,rgb(30.6,31.8,31.6) 738px,rgb(30.1,31.3,31.1) 820px,rgb(28.7,29.9,29.7) 902px,rgb(26.7,27.9,27.7) 984px,rgb(24.4,25.6,25.4) 1066px,rgb(22.0,23.2,23.0) 1148px,rgb(19.4,20.6,20.4) 1230px,rgb(16.5,17.0,17.0) 1312px,rgb(13.6,14.1,14.1) 1394px,rgb(10.9,11.4,11.4) 1476px)"></div><div style="top:760px;background:linear-gradient(90deg,rgb(7.9,8.4,8.4) 0px,rgb(8.8,9.3,9.3) 82px,rgb(10.0,10.5,10.5) 164px,rgb(12.4,12.9,12.9) 246px,rgb(16.2,16.7,16.7) 328px,rgb(20.4,21.6,21.4) 410px,rgb(24.4,25.6,25.4) 492px,rgb(27.6,28.8,28.6) 574px,rgb(29.5,30.7,30.5) 656px,rgb(30.1,31.3,31.1) 738px,rgb(29.7,30.9,30.7) 820px,rgb(28.2,29.4,29.2) 902px,rgb(26.2,27.4,27.2) 984px,rgb(23.9,25.1,24.9) 1066px,rgb(21.5,22.7,22.5) 1148px,rgb(18.9,20.1,19.9) 1230px,rgb(16.1,16.6,16.6) 1312px,rgb(13.2,13.7,13.7) 1394px,rgb(10.5,11.0,11.0) 1476px)"></div><div style="top:768px;background:linear-gradient(90deg,rgb(7.8,8.3,8.3) 0px,rgb(8.7,9.2,9.2) 82px,rgb(9.7,10.2,10.2) 164px,rgb(12.1,12.6,12.6) 246px,rgb(15.8,16.3,16.3) 328px,rgb(19.9,21.1,20.9) 410px,rgb(23.9,25.1,24.9) 492px,rgb(27.0,28.2,28.0) 574px,rgb(29.0,30.2,30.0) 656px,rgb(29.7,30.9,30.7) 738px,rgb(29.2,30.4,30.2) 820px,rgb(27.7,28.9,28.7) 902px,rgb(25.7,26.9,26.7) 984px,rgb(23.4,24.6,24.4) 1066px,rgb(21.0,22.2,22.0) 1148px,rgb(18.5,19.7,19.5) 1230px,rgb(15.7,16.2,16.2) 1312px,rgb(12.8,13.3,13.3) 1394px,rgb(10.2,10.7,10.7) 1476px)"></div><div style="top:776px;background:linear-gradient(90deg,rgb(7.7,8.2,8.2) 0px,rgb(8.5,9.0,9.0) 82px,rgb(9.4,9.9,9.9) 164px,rgb(11.7,12.2,12.2) 246px,rgb(15.4,15.9,15.9) 328px,rgb(19.5,20.7,20.5) 410px,rgb(23.4,24.6,24.4) 492px,rgb(26.5,27.7,27.5) 574px,rgb(28.5,29.7,29.5) 656px,rgb(29.2,30.4,30.2) 738px,rgb(28.7,29.9,29.7) 820px,rgb(27.2,28.4,28.2) 902px,rgb(25.2,26.4,26.2) 984px,rgb(22.9,24.1,23.9) 1066px,rgb(20.6,21.8,21.6) 1148px,rgb(18.0,19.2,19.0) 1230px,rgb(15.3,15.8,15.8) 1312px,rgb(12.4,12.9,12.9) 1394px,rgb(9.8,10.3,10.3) 1476px)"></div><div style="top:784px;background:linear-gradient(90deg,rgb(7.6,8.1,8.1) 0px,rgb(8.3,8.8,8.8) 82px,rgb(9.1,9.6,9.6) 164px,rgb(11.3,11.8,11.8) 246px,rgb(15.0,15.5,15.5) 328px,rgb(19.1,20.3,20.1) 410px,rgb(22.9,24.1,23.9) 492px,rgb(26.0,27.2,27.0) 574px,rgb(27.9,29.1,28.9) 656px,rgb(28.7,29.9,29.7) 738px,rgb(28.2,29.4,29.2) 820px,rgb(26.8,28.0,27.8) 902px,rgb(24.7,25.9,25.7) 984px,rgb(22.4,23.6,23.4) 1066px,rgb(20.1,21.3,21.1) 1148px,rgb(17.6,18.1,18.1) 1230px,rgb(14.9,15.4,15.4) 1312px,rgb(12.1,12.6,12.6) 1394px,rgb(9.5,10.0,10.0) 1476px)"></div><div style="top:792px;background:linear-gradient(90deg,rgb(7.5,8.0,8.0) 0px,rgb(8.1,8.6,8.6) 82px,rgb(8.8,9.3,9.3) 164px,rgb(11.0,11.5,11.5) 246px,rgb(14.6,15.1,15.1) 328px,rgb(18.6,19.8,19.6) 410px,rgb(22.4,23.6,23.4) 492px,rgb(25.5,26.7,26.5) 574px,rgb(27.4,28.6,28.4) 656px,rgb(28.2,29.4,29.2) 738px,rgb(27.8,29.0,28.8) 820px,rgb(26.3,27.5,27.3) 902px,rgb(24.2,25.4,25.2) 984px,rgb(22.0,23.2,23.0) 1066px,rgb(19.7,20.9,20.7) 1148px,rgb(17.2,17.7,17.7) 1230px,rgb(14.5,15.0,15.0) 1312px,rgb(11.7,12.2,12.2) 1394px,rgb(9.1,9.6,9.6) 1476px)"></div><div style="top:800px;background:linear-gradient(90deg,rgb(7.4,7.9,7.9) 0px,rgb(7.9,8.4,8.4) 82px,rgb(8.5,9.0,9.0) 164px,rgb(10.6,11.1,11.1) 246px,rgb(14.2,14.7,14.7) 328px,rgb(18.2,19.4,19.2) 410px,rgb(21.9,23.1,22.9) 492px,rgb(24.9,26.1,25.9) 574px,rgb(26.9,28.1,27.9) 656px,rgb(27.7,28.9,28.7) 738px,rgb(27.3,28.5,28.3) 820px,rgb(25.8,27.0,26.8) 902px,rgb(23.7,24.9,24.7) 984px,rgb(21.5,22.7,22.5) 1066px,rgb(19.2,20.4,20.2) 1148px,rgb(16.7,17.2,17.2) 1230px,rgb(14.0,14.5,14.5) 1312px,rgb(11.3,11.8,11.8) 1394px,rgb(8.8,9.3,9.3) 1476px)"></div><div style="top:808px;background:linear-gradient(90deg,rgb(7.3,7.8,7.8) 0px,rgb(7.7,8.2,8.2) 82px,rgb(8.2,8.7,8.7) 164px,rgb(10.3,10.8,10.8) 246px,rgb(13.9,14.4,14.4) 328px,rgb(17.7,18.2,18.2) 410px,rgb(21.4,22.6,22.4) 492px,rgb(24.4,25.6,25.4) 574px,rgb(26.4,27.6,27.4) 656px,rgb(27.3,28.5,28.3) 738px,rgb(26.8,28.0,27.8) 820px,rgb(25.3,26.5,26.3) 902px,rgb(23.2,24.4,24.2) 984px,rgb(21.0,22.2,22.0) 1066px,rgb(18.8,20.0,19.8) 1148px,rgb(16.3,16.8,16.8) 1230px,rgb(13.6,14.1,14.1) 1312px,rgb(10.9,11.4,11.4) 1394px,rgb(8.4,8.9,8.9) 1476px)"></div><div style="top:816px;background:linear-gradient(90deg,rgb(7.2,7.7,7.7) 0px,rgb(7.5,8.0,8.0) 82px,rgb(8.0,8.5,8.5) 164px,rgb(10.0,10.5,10.5) 246px,rgb(13.5,14.0,14.0) 328px,rgb(17.3,17.8,17.8) 410px,rgb(20.9,22.1,21.9) 492px,rgb(23.9,25.1,24.9) 574px,rgb(25.9,27.1,26.9) 656px,rgb(26.8,28.0,27.8) 738px,rgb(26.3,27.5,27.3) 820px,rgb(24.8,26.0,25.8) 902px,rgb(22.7,23.9,23.7) 984px,rgb(20.5,21.7,21.5) 1066px,rgb(18.3,19.5,19.3) 1148px,rgb(15.9,16.4,16.4) 1230px,rgb(13.3,13.8,13.8) 1312px,rgb(10.6,11.1,11.1) 1394px,rgb(8.1,8.6,8.6) 1476px)"></div><div style="top:824px;background:linear-gradient(90deg,rgb(7.1,7.6,7.6) 0px,rgb(7.4,7.9,7.9) 82px,rgb(7.7,8.2,8.2) 164px,rgb(9.7,10.2,10.2) 246px,rgb(13.1,13.6,13.6) 328px,rgb(16.9,17.4,17.4) 410px,rgb(20.4,21.6,21.4) 492px,rgb(23.4,24.6,24.4) 574px,rgb(25.4,26.6,26.4) 656px,rgb(26.3,27.5,27.3) 738px,rgb(25.9,27.1,26.9) 820px,rgb(24.3,25.5,25.3) 902px,rgb(22.3,23.5,23.3) 984px,rgb(20.1,21.3,21.1) 1066px,rgb(17.9,18.4,18.4) 1148px,rgb(15.5,16.0,16.0) 1230px,rgb(12.9,13.4,13.4) 1312px,rgb(10.2,10.7,10.7) 1394px,rgb(7.8,8.3,8.3) 1476px)"></div><div style="top:832px;background:linear-gradient(90deg,rgb(6.9,7.4,7.4) 0px,rgb(7.2,7.7,7.7) 82px,rgb(7.5,8.0,8.0) 164px,rgb(9.4,9.9,9.9) 246px,rgb(12.8,13.3,13.3) 328px,rgb(16.5,17.0,17.0) 410px,rgb(19.9,21.1,20.9) 492px,rgb(22.9,24.1,23.9) 574px,rgb(24.9,26.1,25.9) 656px,rgb(25.8,27.0,26.8) 738px,rgb(25.4,26.6,26.4) 820px,rgb(23.9,25.1,24.9) 902px,rgb(21.8,23.0,22.8) 984px,rgb(19.6,20.8,20.6) 1066px,rgb(17.4,17.9,17.9) 1148px,rgb(15.0,15.5,15.5) 1230px,rgb(12.5,13.0,13.0) 1312px,rgb(9.9,10.4,10.4) 1394px,rgb(7.4,7.9,7.9) 1476px)"></div><div style="top:840px;background:linear-gradient(90deg,rgb(6.8,7.3,7.3) 0px,rgb(7.0,7.5,7.5) 82px,rgb(7.2,7.7,7.7) 164px,rgb(9.1,9.6,9.6) 246px,rgb(12.4,12.9,12.9) 328px,rgb(16.1,16.6,16.6) 410px,rgb(19.5,20.7,20.5) 492px,rgb(22.4,23.6,23.4) 574px,rgb(24.4,25.6,25.4) 656px,rgb(25.3,26.5,26.3) 738px,rgb(24.9,26.1,25.9) 820px,rgb(23.4,24.6,24.4) 902px,rgb(21.3,22.5,22.3) 984px,rgb(19.2,20.4,20.2) 1066px,rgb(17.0,17.5,17.5) 1148px,rgb(14.6,15.1,15.1) 1230px,rgb(12.1,12.6,12.6) 1312px,rgb(9.5,10.0,10.0) 1394px,rgb(7.1,7.6,7.6) 1476px)"></div></div>
<svg width="1476" height="843" viewBox="0 0 1476 843" style="position:absolute;left:0;top:0" font-family="Liberation Sans, sans-serif">
<defs>
<linearGradient id="lg" x1="0" y1="0" x2="0" y2="1"><stop offset="0" stop-color="rgb(30,28,31)" stop-opacity="0.92"/><stop offset="1" stop-color="rgb(16,15,16)" stop-opacity="0.87"/></linearGradient>
<clipPath id="plot"><rect x="87" y="55.90" width="1376" height="746.90"/></clipPath>
<filter id="sh" x="-20%" y="-5%" width="140%" height="110%"><feGaussianBlur stdDeviation="3.9"/></filter>
</defs>
<g clip-path="url(#plot)"><g filter="url(#sh)" fill="#000" fill-opacity="0.64"><rect x="100.00" y="50.50" width="203.20" height="758.20"/><rect x="329.30" y="50.50" width="203.20" height="758.20"/><rect x="558.60" y="50.50" width="203.20" height="758.20"/><rect x="787.90" y="50.50" width="203.20" height="758.20"/><rect x="1017.20" y="50.50" width="203.20" height="758.20"/><rect x="1246.50" y="50.50" width="203.20" height="758.20"/></g></g>
<rect x="105.40" y="795.83" width="192.40" height="7.47" fill="#fffc5a"/><rect x="105.40" y="302.54" width="192.40" height="493.28" fill="#fec95c"/><rect x="105.40" y="295.07" width="192.40" height="7.47" fill="#fe9b5c"/><rect x="105.40" y="145.59" width="192.40" height="149.48" fill="#fec3bc"/><rect x="105.40" y="55.90" width="192.40" height="89.69" fill="#e9c3df"/><g stroke-width="1.35"><line x1="105.40" x2="297.80" y1="795.83" y2="795.83" stroke="#625308"/><line x1="105.40" x2="297.80" y1="302.54" y2="302.54" stroke="#623808"/><line x1="105.40" x2="297.80" y1="295.07" y2="295.07" stroke="#622408"/><line x1="105.40" x2="297.80" y1="145.59" y2="145.59" stroke="#541624"/></g><rect x="105.40" y="55.90" width="192.40" height="747.40" fill="none" stroke="rgba(0,0,0,0.7)" stroke-width="1"/><rect x="334.70" y="422.13" width="192.40" height="381.17" fill="#fffc5a"/><rect x="334.70" y="287.59" width="192.40" height="134.53" fill="#fec95c"/><rect x="334.70" y="235.28" width="192.40" height="52.32" fill="#fe9b5c"/><rect x="334.70" y="138.11" width="192.40" height="97.16" fill="#fec3bc"/><rect x="334.70" y="55.90" width="192.40" height="82.21" fill="#e9c3df"/><g stroke-width="1.35"><line x1="334.70" x2="527.10" y1="422.13" y2="422.13" stroke="#625308"/><line x1="334.70" x2="527.10" y1="287.59" y2="287.59" stroke="#623808"/><line x1="334.70" x2="527.10" y1="235.28" y2="235.28" stroke="#622408"/><line x1="334.70" x2="527.10" y1="138.11" y2="138.11" stroke="#541624"/></g><rect x="334.70" y="55.90" width="192.40" height="747.40" fill="none" stroke="rgba(0,0,0,0.7)" stroke-width="1"/><rect x="564.00" y="481.92" width="192.40" height="321.38" fill="#fffc5a"/><rect x="564.00" y="474.44" width="192.40" height="7.47" fill="#fec95c"/><rect x="564.00" y="324.96" width="192.40" height="149.48" fill="#fe9b5c"/><rect x="564.00" y="272.65" width="192.40" height="52.32" fill="#fec3bc"/><rect x="564.00" y="160.54" width="192.40" height="112.11" fill="#fe93b6"/><rect x="564.00" y="100.74" width="192.40" height="59.79" fill="#db93c8"/><rect x="564.00" y="55.90" width="192.40" height="44.84" fill="#e9c3df"/><g stroke-width="1.35"><line x1="564.00" x2="756.40" y1="481.92" y2="481.92" stroke="#625308"/><line x1="564.00" x2="756.40" y1="474.44" y2="474.44" stroke="#623808"/><line x1="564.00" x2="756.40" y1="324.96" y2="324.96" stroke="#622408"/><line x1="564.00" x2="756.40" y1="272.65" y2="272.65" stroke="#610918"/><line x1="564.00" x2="756.40" y1="160.54" y2="160.54" stroke="#551535"/><line x1="564.00" x2="756.40" y1="100.74" y2="100.74" stroke="#4b1f40"/></g><rect x="564.00" y="55.90" width="192.40" height="747.40" fill="none" stroke="rgba(0,0,0,0.7)" stroke-width="1"/><rect x="793.30" y="799.56" width="192.40" height="3.74" fill="#fe9b5c"/><rect x="793.30" y="784.62" width="192.40" height="14.95" fill="#fec3bc"/><rect x="793.30" y="642.61" width="192.40" height="142.01" fill="#fe93b6"/><rect x="793.30" y="67.11" width="192.40" height="575.50" fill="#db93c8"/><rect x="793.30" y="55.90" width="192.40" height="11.21" fill="#e9c3df"/><g stroke-width="1.35"><line x1="793.30" x2="985.70" y1="799.56" y2="799.56" stroke="#622408"/><line x1="793.30" x2="985.70" y1="784.62" y2="784.62" stroke="#610918"/><line x1="793.30" x2="985.70" y1="642.61" y2="642.61" stroke="#551535"/><line x1="793.30" x2="985.70" y1="67.11" y2="67.11" stroke="#4b1f40"/></g><rect x="793.30" y="55.90" width="192.40" height="747.40" fill="none" stroke="rgba(0,0,0,0.7)" stroke-width="1"/><rect x="1022.60" y="698.66" width="192.40" height="104.64" fill="#fe93b6"/><rect x="1022.60" y="85.80" width="192.40" height="612.87" fill="#db93c8"/><rect x="1022.60" y="55.90" width="192.40" height="29.90" fill="#e9c3df"/><g stroke-width="1.35"><line x1="1022.60" x2="1215.00" y1="698.66" y2="698.66" stroke="#551535"/><line x1="1022.60" x2="1215.00" y1="85.80" y2="85.80" stroke="#4b1f40"/></g><rect x="1022.60" y="55.90" width="192.40" height="747.40" fill="none" stroke="rgba(0,0,0,0.7)" stroke-width="1"/><rect x="1251.90" y="601.50" width="192.40" height="201.80" fill="#fe93b6"/><rect x="1251.90" y="63.37" width="192.40" height="538.13" fill="#db93c8"/><rect x="1251.90" y="55.90" width="192.40" height="7.47" fill="#e9c3df"/><g stroke-width="1.35"><line x1="1251.90" x2="1444.30" y1="601.50" y2="601.50" stroke="#551535"/><line x1="1251.90" x2="1444.30" y1="63.37" y2="63.37" stroke="#4b1f40"/></g><rect x="1251.90" y="55.90" width="192.40" height="747.40" fill="none" stroke="rgba(0,0,0,0.7)" stroke-width="1"/>
<line x1="86.9" x2="86.9" y1="55.3" y2="804.5" stroke="#b8b8b4" stroke-width="2"/>
<line x1="79" x2="87" y1="803.30" y2="803.30" stroke="#e6e6e0" stroke-width="1.2"/><line x1="81.8" x2="87" y1="795.83" y2="795.83" stroke="#9a9a96" stroke-width="1"/><line x1="81.8" x2="87" y1="788.35" y2="788.35" stroke="#9a9a96" stroke-width="1"/><line x1="81.8" x2="87" y1="780.88" y2="780.88" stroke="#9a9a96" stroke-width="1"/><line x1="81.8" x2="87" y1="773.40" y2="773.40" stroke="#9a9a96" stroke-width="1"/><line x1="81.8" x2="87" y1="765.93" y2="765.93" stroke="#9a9a96" stroke-width="1"/><line x1="81.8" x2="87" y1="758.46" y2="758.46" stroke="#9a9a96" stroke-width="1"/><line x1="81.8" x2="87" y1="750.98" y2="750.98" stroke="#9a9a96" stroke-width="1"/><line x1="81.8" x2="87" y1="743.51" y2="743.51" stroke="#9a9a96" stroke-width="1"/><line x1="81.8" x2="87" y1="736.03" y2="736.03" stroke="#9a9a96" stroke-width="1"/><line x1="79" x2="87" y1="728.56" y2="728.56" stroke="#e6e6e0" stroke-width="1.2"/><line x1="81.8" x2="87" y1="721.09" y2="721.09" stroke="#9a9a96" stroke-width="1"/><line x1="81.8" x2="87" y1="713.61" y2="713.61" stroke="#9a9a96" stroke-width="1"/><line x1="81.8" x2="87" y1="706.14" y2="706.14" stroke="#9a9a96" stroke-width="1"/><line x1="81.8" x2="87" y1="698.66" y2="698.66" stroke="#9a9a96" stroke-width="1"/><line x1="81.8" x2="87" y1="691.19" y2="691.19" stroke="#9a9a96" stroke-width="1"/><line x1="81.8" x2="87" y1="683.72" y2="683.72" stroke="#9a9a96" stroke-width="1"/><line x1="81.8" x2="87" y1="676.24" y2="676.24" stroke="#9a9a96" stroke-width="1"/><line x1="81.8" x2="87" y1="668.77" y2="668.77" stroke="#9a9a96" stroke-width="1"/><line x1="81.8" x2="87" y1="661.29" y2="661.29" stroke="#9a9a96" stroke-width="1"/><line x1="79" x2="87" y1="653.82" y2="653.82" stroke="#e6e6e0" stroke-width="1.2"/><line x1="81.8" x2="87" y1="646.35" y2="646.35" stroke="#9a9a96" stroke-width="1"/><line x1="81.8" x2="87" y1="638.87" y2="638.87" stroke="#9a9a96" stroke-width="1"/><line x1="81.8" x2="87" y1="631.40" y2="631.40" stroke="#9a9a96" stroke-width="1"/><line x1="81.8" x2="87" y1="623.92" y2="623.92" stroke="#9a9a96" stroke-width="1"/><line x1="81.8" x2="87" y1="616.45" y2="616.45" stroke="#9a9a96" stroke-width="1"/><line x1="81.8" x2="87" y1="608.98" y2="608.98" stroke="#9a9a96" stroke-width="1"/><line x1="81.8" x2="87" y1="601.50" y2="601.50" stroke="#9a9a96" stroke-width="1"/><line x1="81.8" x2="87" y1="594.03" y2="594.03" stroke="#9a9a96" stroke-width="1"/><line x1="81.8" x2="87" y1="586.55" y2="586.55" stroke="#9a9a96" stroke-width="1"/><line x1="79" x2="87" y1="579.08" y2="579.08" stroke="#e6e6e0" stroke-width="1.2"/><line x1="81.8" x2="87" y1="571.61" y2="571.61" stroke="#9a9a96" stroke-width="1"/><line x1="81.8" x2="87" y1="564.13" y2="564.13" stroke="#9a9a96" stroke-width="1"/><line x1="81.8" x2="87" y1="556.66" y2="556.66" stroke="#9a9a96" stroke-width="1"/><line x1="81.8" x2="87" y1="549.18" y2="549.18" stroke="#9a9a96" stroke-width="1"/><line x1="81.8" x2="87" y1="541.71" y2="541.71" stroke="#9a9a96" stroke-width="1"/><line x1="81.8" x2="87" y1="534.24" y2="534.24" stroke="#9a9a96" stroke-width="1"/><line x1="81.8" x2="87" y1="526.76" y2="526.76" stroke="#9a9a96" stroke-width="1"/><line x1="81.8" x2="87" y1="519.29" y2="519.29" stroke="#9a9a96" stroke-width="1"/><line x1="81.8" x2="87" y1="511.81" y2="511.81" stroke="#9a9a96" stroke-width="1"/><line x1="79" x2="87" y1="504.34" y2="504.34" stroke="#e6e6e0" stroke-width="1.2"/><line x1="81.8" x2="87" y1="496.87" y2="496.87" stroke="#9a9a96" stroke-width="1"/><line x1="81.8" x2="87" y1="489.39" y2="489.39" stroke="#9a9a96" stroke-width="1"/><line x1="81.8" x2="87" y1="481.92" y2="481.92" stroke="#9a9a96" stroke-width="1"/><line x1="81.8" x2="87" y1="474.44" y2="474.44" stroke="#9a9a96" stroke-width="1"/><line x1="81.8" x2="87" y1="466.97" y2="466.97" stroke="#9a9a96" stroke-width="1"/><line x1="81.8" x2="87" y1="459.50" y2="459.50" stroke="#9a9a96" stroke-width="1"/><line x1="81.8" x2="87" y1="452.02" y2="452.02" stroke="#9a9a96" stroke-width="1"/><line x1="81.8" x2="87" y1="444.55" y2="444.55" stroke="#9a9a96" stroke-width="1"/><line x1="81.8" x2="87" y1="437.07" y2="437.07" stroke="#9a9a96" stroke-width="1"/><line x1="79" x2="87" y1="429.60" y2="429.60" stroke="#e6e6e0" stroke-width="1.2"/><line x1="81.8" x2="87" y1="422.13" y2="422.13" stroke="#9a9a96" stroke-width="1"/><line x1="81.8" x2="87" y1="414.65" y2="414.65" stroke="#9a9a96" stroke-width="1"/><line x1="81.8" x2="87" y1="407.18" y2="407.18" stroke="#9a9a96" stroke-width="1"/><line x1="81.8" x2="87" y1="399.70" y2="399.70" stroke="#9a9a96" stroke-width="1"/><line x1="81.8" x2="87" y1="392.23" y2="392.23" stroke="#9a9a96" stroke-width="1"/><line x1="81.8" x2="87" y1="384.76" y2="384.76" stroke="#9a9a96" stroke-width="1"/><line x1="81.8" x2="87" y1="377.28" y2="377.28" stroke="#9a9a96" stroke-width="1"/><line x1="81.8" x2="87" y1="369.81" y2="369.81" stroke="#9a9a96" stroke-width="1"/><line x1="81.8" x2="87" y1="362.33" y2="362.33" stroke="#9a9a96" stroke-width="1"/><line x1="79" x2="87" y1="354.86" y2="354.86" stroke="#e6e6e0" stroke-width="1.2"/><line x1="81.8" x2="87" y1="347.39" y2="347.39" stroke="#9a9a96" stroke-width="1"/><line x1="81.8" x2="87" y1="339.91" y2="339.91" stroke="#9a9a96" stroke-width="1"/><line x1="81.8" x2="87" y1="332.44" y2="332.44" stroke="#9a9a96" stroke-width="1"/><line x1="81.8" x2="87" y1="324.96" y2="324.96" stroke="#9a9a96" stroke-width="1"/><line x1="81.8" x2="87" y1="317.49" y2="317.49" stroke="#9a9a96" stroke-width="1"/><line x1="81.8" x2="87" y1="310.02" y2="310.02" stroke="#9a9a96" stroke-width="1"/><line x1="81.8" x2="87" y1="302.54" y2="302.54" stroke="#9a9a96" stroke-width="1"/><line x1="81.8" x2="87" y1="295.07" y2="295.07" stroke="#9a9a96" stroke-width="1"/><line x1="81.8" x2="87" y1="287.59" y2="287.59" stroke="#9a9a96" stroke-width="1"/><line x1="79" x2="87" y1="280.12" y2="280.12" stroke="#e6e6e0" stroke-width="1.2"/><line x1="81.8" x2="87" y1="272.65" y2="272.65" stroke="#9a9a96" stroke-width="1"/><line x1="81.8" x2="87" y1="265.17" y2="265.17" stroke="#9a9a96" stroke-width="1"/><line x1="81.8" x2="87" y1="257.70" y2="257.70" stroke="#9a9a96" stroke-width="1"/><line x1="81.8" x2="87" y1="250.22" y2="250.22" stroke="#9a9a96" stroke-width="1"/><line x1="81.8" x2="87" y1="242.75" y2="242.75" stroke="#9a9a96" stroke-width="1"/><line x1="81.8" x2="87" y1="235.28" y2="235.28" stroke="#9a9a96" stroke-width="1"/><line x1="81.8" x2="87" y1="227.80" y2="227.80" stroke="#9a9a96" stroke-width="1"/><line x1="81.8" x2="87" y1="220.33" y2="220.33" stroke="#9a9a96" stroke-width="1"/><line x1="81.8" x2="87" y1="212.85" y2="212.85" stroke="#9a9a96" stroke-width="1"/><line x1="79" x2="87" y1="205.38" y2="205.38" stroke="#e6e6e0" stroke-width="1.2"/><line x1="81.8" x2="87" y1="197.91" y2="197.91" stroke="#9a9a96" stroke-width="1"/><line x1="81.8" x2="87" y1="190.43" y2="190.43" stroke="#9a9a96" stroke-width="1"/><line x1="81.8" x2="87" y1="182.96" y2="182.96" stroke="#9a9a96" stroke-width="1"/><line x1="81.8" x2="87" y1="175.48" y2="175.48" stroke="#9a9a96" stroke-width="1"/><line x1="81.8" x2="87" y1="168.01" y2="168.01" stroke="#9a9a96" stroke-width="1"/><line x1="81.8" x2="87" y1="160.54" y2="160.54" stroke="#9a9a96" stroke-width="1"/><line x1="81.8" x2="87" y1="153.06" y2="153.06" stroke="#9a9a96" stroke-width="1"/><line x1="81.8" x2="87" y1="145.59" y2="145.59" stroke="#9a9a96" stroke-width="1"/><line x1="81.8" x2="87" y1="138.11" y2="138.11" stroke="#9a9a96" stroke-width="1"/><line x1="79" x2="87" y1="130.64" y2="130.64" stroke="#e6e6e0" stroke-width="1.2"/><line x1="81.8" x2="87" y1="123.17" y2="123.17" stroke="#9a9a96" stroke-width="1"/><line x1="81.8" x2="87" y1="115.69" y2="115.69" stroke="#9a9a96" stroke-width="1"/><line x1="81.8" x2="87" y1="108.22" y2="108.22" stroke="#9a9a96" stroke-width="1"/><line x1="81.8" x2="87" y1="100.74" y2="100.74" stroke="#9a9a96" stroke-width="1"/><line x1="81.8" x2="87" y1="93.27" y2="93.27" stroke="#9a9a96" stroke-width="1"/><line x1="81.8" x2="87" y1="85.80" y2="85.80" stroke="#9a9a96" stroke-width="1"/><line x1="81.8" x2="87" y1="78.32" y2="78.32" stroke="#9a9a96" stroke-width="1"/><line x1="81.8" x2="87" y1="70.85" y2="70.85" stroke="#9a9a96" stroke-width="1"/><line x1="81.8" x2="87" y1="63.37" y2="63.37" stroke="#9a9a96" stroke-width="1"/><line x1="79" x2="87" y1="55.90" y2="55.90" stroke="#e6e6e0" stroke-width="1.2"/>
<line x1="86" x2="1463" y1="803.5" y2="803.5" stroke="#d8d8d4" stroke-width="2"/>
<g class="t" fill="none" stroke="rgba(6,6,6,0.5)" stroke-width="2.8" stroke-linejoin="round"><text x="73.5" y="809.30" text-anchor="end" font-size="17">0</text><text x="71.5" y="770.23" text-anchor="end" font-size="12">5</text><text x="73.5" y="734.56" text-anchor="end" font-size="17">10</text><text x="71.5" y="695.49" text-anchor="end" font-size="12">15</text><text x="73.5" y="659.82" text-anchor="end" font-size="17">20</text><text x="71.5" y="620.75" text-anchor="end" font-size="12">25</text><text x="73.5" y="585.08" text-anchor="end" font-size="17">30</text><text x="71.5" y="546.01" text-anchor="end" font-size="12">35</text><text x="73.5" y="510.34" text-anchor="end" font-size="17">40</text><text x="71.5" y="471.27" text-anchor="end" font-size="12">45</text><text x="73.5" y="435.60" text-anchor="end" font-size="17">50</text><text x="71.5" y="396.53" text-anchor="end" font-size="12">55</text><text x="73.5" y="360.86" text-anchor="end" font-size="17">60</text><text x="71.5" y="321.79" text-anchor="end" font-size="12">65</text><text x="73.5" y="286.12" text-anchor="end" font-size="17">70</text><text x="71.5" y="247.05" text-anchor="end" font-size="12">75</text><text x="73.5" y="211.38" text-anchor="end" font-size="17">80</text><text x="71.5" y="172.31" text-anchor="end" font-size="12">85</text><text x="73.5" y="136.64" text-anchor="end" font-size="17">90</text><text x="71.5" y="97.57" text-anchor="end" font-size="12">95</text><text x="73.5" y="61.90" text-anchor="end" font-size="17">100</text><text x="201.60" y="824.7" text-anchor="middle" font-size="16.5">1999</text><text x="430.90" y="824.7" text-anchor="middle" font-size="16.5">2004</text><text x="660.20" y="824.7" text-anchor="middle" font-size="16.5">2009</text><text x="889.50" y="824.7" text-anchor="middle" font-size="16.5">2014</text><text x="1118.80" y="824.7" text-anchor="middle" font-size="16.5">2019</text><text x="1348.10" y="824.7" text-anchor="middle" font-size="16.5">2021</text><text x="737.5" y="34.8" text-anchor="middle" font-size="21.45">% of market share by mobile OS in 1999-2021</text><text transform="translate(31.6,429.8) rotate(-90)" x="-76.25" font-size="18.2" textLength="152.5" lengthAdjust="spacingAndGlyphs">% of market share</text></g><g class="t" stroke-width="0.35"><text x="73.5" y="809.30" text-anchor="end" font-size="17" fill="#f8f5d4" stroke="#f8f5d4">0</text><text x="71.5" y="770.23" text-anchor="end" font-size="12" fill="#8e8e86" stroke="#8e8e86">5</text><text x="73.5" y="734.56" text-anchor="end" font-size="17" fill="#f8f5d4" stroke="#f8f5d4">10</text><text x="71.5" y="695.49" text-anchor="end" font-size="12" fill="#8e8e86" stroke="#8e8e86">15</text><text x="73.5" y="659.82" text-anchor="end" font-size="17" fill="#f8f5d4" stroke="#f8f5d4">20</text><text x="71.5" y="620.75" text-anchor="end" font-size="12" fill="#8e8e86" stroke="#8e8e86">25</text><text x="73.5" y="585.08" text-anchor="end" font-size="17" fill="#f8f5d4" stroke="#f8f5d4">30</text><text x="71.5" y="546.01" text-anchor="end" font-size="12" fill="#8e8e86" stroke="#8e8e86">35</text><text x="73.5" y="510.34" text-anchor="end" font-size="17" fill="#f8f5d4" stroke="#f8f5d4">40</text><text x="71.5" y="471.27" text-anchor="end" font-size="12" fill="#8e8e86" stroke="#8e8e86">45</text><text x="73.5" y="435.60" text-anchor="end" font-size="17" fill="#f8f5d4" stroke="#f8f5d4">50</text><text x="71.5" y="396.53" text-anchor="end" font-size="12" fill="#8e8e86" stroke="#8e8e86">55</text><text x="73.5" y="360.86" text-anchor="end" font-size="17" fill="#f8f5d4" stroke="#f8f5d4">60</text><text x="71.5" y="321.79" text-anchor="end" font-size="12" fill="#8e8e86" stroke="#8e8e86">65</text><text x="73.5" y="286.12" text-anchor="end" font-size="17" fill="#f8f5d4" stroke="#f8f5d4">70</text><text x="71.5" y="247.05" text-anchor="end" font-size="12" fill="#8e8e86" stroke="#8e8e86">75</text><text x="73.5" y="211.38" text-anchor="end" font-size="17" fill="#f8f5d4" stroke="#f8f5d4">80</text><text x="71.5" y="172.31" text-anchor="end" font-size="12" fill="#8e8e86" stroke="#8e8e86">85</text><text x="73.5" y="136.64" text-anchor="end" font-size="17" fill="#f8f5d4" stroke="#f8f5d4">90</text><text x="71.5" y="97.57" text-anchor="end" font-size="12" fill="#8e8e86" stroke="#8e8e86">95</text><text x="73.5" y="61.90" text-anchor="end" font-size="17" fill="#f8f5d4" stroke="#f8f5d4">100</text><text x="201.60" y="824.7" text-anchor="middle" font-size="16.5" fill="#f8f5d4" stroke="#f8f5d4">1999</text><text x="430.90" y="824.7" text-anchor="middle" font-size="16.5" fill="#f8f5d4" stroke="#f8f5d4">2004</text><text x="660.20" y="824.7" text-anchor="middle" font-size="16.5" fill="#f8f5d4" stroke="#f8f5d4">2009</text><text x="889.50" y="824.7" text-anchor="middle" font-size="16.5" fill="#f8f5d4" stroke="#f8f5d4">2014</text><text x="1118.80" y="824.7" text-anchor="middle" font-size="16.5" fill="#f8f5d4" stroke="#f8f5d4">2019</text><text x="1348.10" y="824.7" text-anchor="middle" font-size="16.5" fill="#f8f5d4" stroke="#f8f5d4">2021</text><text x="737.5" y="34.8" text-anchor="middle" font-size="21.45" fill="#f8f5d4" stroke="#f8f5d4">% of market share by mobile OS in 1999-2021</text><text transform="translate(31.6,429.8) rotate(-90)" x="-76.25" font-size="18.2" textLength="152.5" lengthAdjust="spacingAndGlyphs" fill="#f8f5d4" stroke="#f8f5d4">% of market share</text></g>
<rect x="1315.5" y="315.5" width="159" height="213" fill="url(#lg)" stroke="rgba(255,255,255,0.85)" stroke-width="1"/><circle cx="1335" cy="362" r="7" fill="rgba(0,0,0,0.55)"/><circle cx="1335" cy="362" r="6.1" fill="#fffc5a"/><circle cx="1335" cy="388" r="7" fill="rgba(0,0,0,0.55)"/><circle cx="1335" cy="388" r="6.1" fill="#fec95c"/><circle cx="1335" cy="413" r="7" fill="rgba(0,0,0,0.55)"/><circle cx="1335" cy="413" r="6.1" fill="#fe9b5c"/><circle cx="1335" cy="440" r="7" fill="rgba(0,0,0,0.55)"/><circle cx="1335" cy="440" r="6.1" fill="#fec3bc"/><circle cx="1335" cy="463" r="7" fill="rgba(0,0,0,0.55)"/><circle cx="1335" cy="463" r="6.1" fill="#fe93b6"/><circle cx="1335" cy="487" r="7" fill="rgba(0,0,0,0.55)"/><circle cx="1335" cy="487" r="6.1" fill="#db93c8"/><circle cx="1335" cy="511" r="7" fill="rgba(0,0,0,0.55)"/><circle cx="1335" cy="511" r="6.1" fill="#e9c3df"/>
<g class="t" fill="none" stroke="rgba(6,6,6,0.5)" stroke-width="2.8" stroke-linejoin="round"><text x="1328" y="340" font-size="16" font-weight="bold" textLength="57.5" lengthAdjust="spacingAndGlyphs">Legend</text><text x="1347" y="367.3" font-size="15" textLength="83.7" lengthAdjust="spacingAndGlyphs">Symbian OS</text><text x="1347" y="393.3" font-size="15" textLength="58.2" lengthAdjust="spacingAndGlyphs">Palm OS</text><text x="1347" y="418.3" font-size="15" textLength="96.2" lengthAdjust="spacingAndGlyphs">BlackBerry OS</text><text x="1347" y="445.3" font-size="15" textLength="116.2" lengthAdjust="spacingAndGlyphs">Windows Mobile</text><text x="1347" y="468.3" font-size="15" textLength="23.8" lengthAdjust="spacingAndGlyphs">iOS</text><text x="1347" y="492.3" font-size="15" textLength="56.1" lengthAdjust="spacingAndGlyphs">Android</text><text x="1347" y="516.3" font-size="15" textLength="40.1" lengthAdjust="spacingAndGlyphs">Other</text></g><g class="t" stroke-width="0.35"><text x="1328" y="340" font-size="16" font-weight="bold" textLength="57.5" lengthAdjust="spacingAndGlyphs" fill="#f8f5d4" stroke="#f8f5d4">Legend</text><text x="1347" y="367.3" font-size="15" textLength="83.7" lengthAdjust="spacingAndGlyphs" fill="#f8f5d4" stroke="#f8f5d4">Symbian OS</text><text x="1347" y="393.3" font-size="15" textLength="58.2" lengthAdjust="spacingAndGlyphs" fill="#f8f5d4" stroke="#f8f5d4">Palm OS</text><text x="1347" y="418.3" font-size="15" textLength="96.2" lengthAdjust="spacingAndGlyphs" fill="#f8f5d4" stroke="#f8f5d4">BlackBerry OS</text><text x="1347" y="445.3" font-size="15" textLength="116.2" lengthAdjust="spacingAndGlyphs" fill="#f8f5d4" stroke="#f8f5d4">Windows Mobile</text><text x="1347" y="468.3" font-size="15" textLength="23.8" lengthAdjust="spacingAndGlyphs" fill="#f8f5d4" stroke="#f8f5d4">iOS</text><text x="1347" y="492.3" font-size="15" textLength="56.1" lengthAdjust="spacingAndGlyphs" fill="#f8f5d4" stroke="#f8f5d4">Android</text><text x="1347" y="516.3" font-size="15" textLength="40.1" lengthAdjust="spacingAndGlyphs" fill="#f8f5d4" stroke="#f8f5d4">Other</text></g>
</svg>
<div class="edge" style="left:0;top:0;width:1476px;height:1px"></div>
<div class="edge" style="right:0;top:0;width:1.5px;height:843px"></div>
</body></html>
